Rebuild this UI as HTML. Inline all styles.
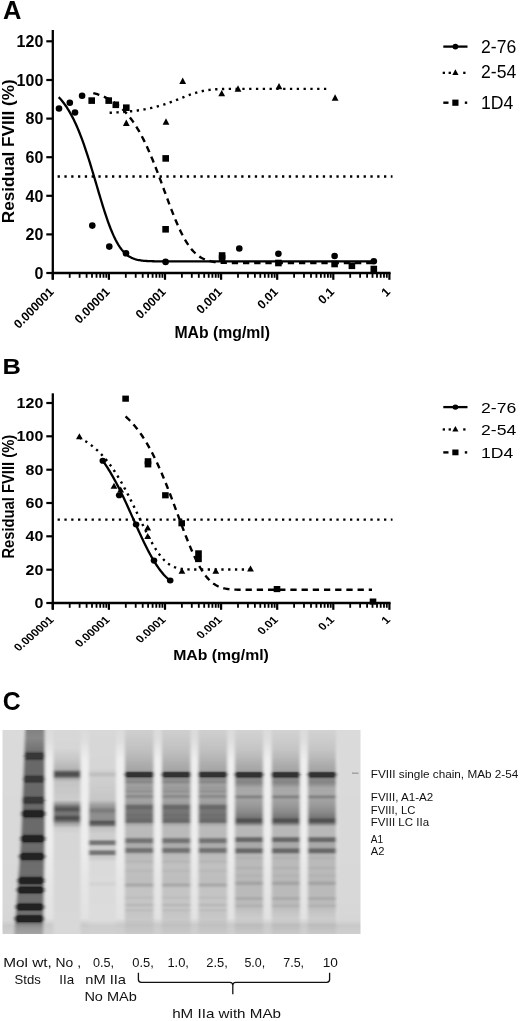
<!DOCTYPE html>
<html><head><meta charset="utf-8"><style>
html,body{margin:0;padding:0;background:#fff;}
body{width:520px;height:1021px;overflow:hidden;position:relative;font-family:"Liberation Sans",sans-serif;}
svg{position:absolute;left:0;top:0;will-change:transform;}
</style></head><body>
<svg width="520" height="1021" viewBox="0 0 520 1021">
<defs><linearGradient id="gbg" gradientUnits="userSpaceOnUse" x1="0" y1="726.0" x2="0" y2="938.0"><stop offset="0.0000" stop-color="#dadada"/><stop offset="0.0047" stop-color="#dadada"/><stop offset="0.0094" stop-color="#dadada"/><stop offset="0.0142" stop-color="#dadada"/><stop offset="0.0189" stop-color="#dadada"/><stop offset="0.0236" stop-color="#dadada"/><stop offset="0.0283" stop-color="#dadada"/><stop offset="0.0330" stop-color="#dadada"/><stop offset="0.0377" stop-color="#dadada"/><stop offset="0.0425" stop-color="#dadada"/><stop offset="0.0472" stop-color="#dadada"/><stop offset="0.0519" stop-color="#dadada"/><stop offset="0.0566" stop-color="#dadada"/><stop offset="0.0613" stop-color="#dadada"/><stop offset="0.0660" stop-color="#dadada"/><stop offset="0.0708" stop-color="#dadada"/><stop offset="0.0755" stop-color="#dadada"/><stop offset="0.0802" stop-color="#dadada"/><stop offset="0.0849" stop-color="#dadada"/><stop offset="0.0896" stop-color="#dadada"/><stop offset="0.0943" stop-color="#dadada"/><stop offset="0.0991" stop-color="#dadada"/><stop offset="0.1038" stop-color="#dadada"/><stop offset="0.1085" stop-color="#dadada"/><stop offset="0.1132" stop-color="#dadada"/><stop offset="0.1179" stop-color="#dadada"/><stop offset="0.1226" stop-color="#dadada"/><stop offset="0.1274" stop-color="#dadada"/><stop offset="0.1321" stop-color="#dadada"/><stop offset="0.1368" stop-color="#dadada"/><stop offset="0.1415" stop-color="#dadada"/><stop offset="0.1462" stop-color="#dadada"/><stop offset="0.1509" stop-color="#dadada"/><stop offset="0.1557" stop-color="#dadada"/><stop offset="0.1604" stop-color="#dadada"/><stop offset="0.1651" stop-color="#dadada"/><stop offset="0.1698" stop-color="#dadada"/><stop offset="0.1745" stop-color="#dadada"/><stop offset="0.1792" stop-color="#dadada"/><stop offset="0.1840" stop-color="#dadada"/><stop offset="0.1887" stop-color="#dadada"/><stop offset="0.1934" stop-color="#dadada"/><stop offset="0.1981" stop-color="#dadada"/><stop offset="0.2028" stop-color="#dadada"/><stop offset="0.2075" stop-color="#dadada"/><stop offset="0.2123" stop-color="#dadada"/><stop offset="0.2170" stop-color="#dadada"/><stop offset="0.2217" stop-color="#dadada"/><stop offset="0.2264" stop-color="#dadada"/><stop offset="0.2311" stop-color="#dadada"/><stop offset="0.2358" stop-color="#dadada"/><stop offset="0.2406" stop-color="#dadada"/><stop offset="0.2453" stop-color="#dadada"/><stop offset="0.2500" stop-color="#dadada"/><stop offset="0.2547" stop-color="#dadada"/><stop offset="0.2594" stop-color="#dadada"/><stop offset="0.2642" stop-color="#dadada"/><stop offset="0.2689" stop-color="#dadada"/><stop offset="0.2736" stop-color="#dadada"/><stop offset="0.2783" stop-color="#dadada"/><stop offset="0.2830" stop-color="#dadada"/><stop offset="0.2877" stop-color="#dadada"/><stop offset="0.2925" stop-color="#dadada"/><stop offset="0.2972" stop-color="#dadada"/><stop offset="0.3019" stop-color="#dadada"/><stop offset="0.3066" stop-color="#dadada"/><stop offset="0.3113" stop-color="#dadada"/><stop offset="0.3160" stop-color="#dadada"/><stop offset="0.3208" stop-color="#dadada"/><stop offset="0.3255" stop-color="#dadada"/><stop offset="0.3302" stop-color="#d9d9d9"/><stop offset="0.3349" stop-color="#d9d9d9"/><stop offset="0.3396" stop-color="#d9d9d9"/><stop offset="0.3443" stop-color="#d9d9d9"/><stop offset="0.3491" stop-color="#d9d9d9"/><stop offset="0.3538" stop-color="#d9d9d9"/><stop offset="0.3585" stop-color="#d9d9d9"/><stop offset="0.3632" stop-color="#d9d9d9"/><stop offset="0.3679" stop-color="#d9d9d9"/><stop offset="0.3726" stop-color="#d9d9d9"/><stop offset="0.3774" stop-color="#d9d9d9"/><stop offset="0.3821" stop-color="#d9d9d9"/><stop offset="0.3868" stop-color="#d9d9d9"/><stop offset="0.3915" stop-color="#d9d9d9"/><stop offset="0.3962" stop-color="#d9d9d9"/><stop offset="0.4009" stop-color="#d9d9d9"/><stop offset="0.4057" stop-color="#d9d9d9"/><stop offset="0.4104" stop-color="#d9d9d9"/><stop offset="0.4151" stop-color="#d9d9d9"/><stop offset="0.4198" stop-color="#d9d9d9"/><stop offset="0.4245" stop-color="#d9d9d9"/><stop offset="0.4292" stop-color="#d9d9d9"/><stop offset="0.4340" stop-color="#d9d9d9"/><stop offset="0.4387" stop-color="#d9d9d9"/><stop offset="0.4434" stop-color="#d9d9d9"/><stop offset="0.4481" stop-color="#d9d9d9"/><stop offset="0.4528" stop-color="#d9d9d9"/><stop offset="0.4575" stop-color="#d9d9d9"/><stop offset="0.4623" stop-color="#d9d9d9"/><stop offset="0.4670" stop-color="#d9d9d9"/><stop offset="0.4717" stop-color="#d9d9d9"/><stop offset="0.4764" stop-color="#d9d9d9"/><stop offset="0.4811" stop-color="#d9d9d9"/><stop offset="0.4858" stop-color="#d9d9d9"/><stop offset="0.4906" stop-color="#d9d9d9"/><stop offset="0.4953" stop-color="#d9d9d9"/><stop offset="0.5000" stop-color="#d9d9d9"/><stop offset="0.5047" stop-color="#d9d9d9"/><stop offset="0.5094" stop-color="#d9d9d9"/><stop offset="0.5142" stop-color="#d9d9d9"/><stop offset="0.5189" stop-color="#d9d9d9"/><stop offset="0.5236" stop-color="#d9d9d9"/><stop offset="0.5283" stop-color="#d9d9d9"/><stop offset="0.5330" stop-color="#d9d9d9"/><stop offset="0.5377" stop-color="#d9d9d9"/><stop offset="0.5425" stop-color="#d9d9d9"/><stop offset="0.5472" stop-color="#d9d9d9"/><stop offset="0.5519" stop-color="#d9d9d9"/><stop offset="0.5566" stop-color="#d9d9d9"/><stop offset="0.5613" stop-color="#d9d9d9"/><stop offset="0.5660" stop-color="#d9d9d9"/><stop offset="0.5708" stop-color="#d9d9d9"/><stop offset="0.5755" stop-color="#d9d9d9"/><stop offset="0.5802" stop-color="#d9d9d9"/><stop offset="0.5849" stop-color="#d9d9d9"/><stop offset="0.5896" stop-color="#d9d9d9"/><stop offset="0.5943" stop-color="#d9d9d9"/><stop offset="0.5991" stop-color="#d9d9d9"/><stop offset="0.6038" stop-color="#d9d9d9"/><stop offset="0.6085" stop-color="#d9d9d9"/><stop offset="0.6132" stop-color="#d9d9d9"/><stop offset="0.6179" stop-color="#d9d9d9"/><stop offset="0.6226" stop-color="#d9d9d9"/><stop offset="0.6274" stop-color="#d9d9d9"/><stop offset="0.6321" stop-color="#d9d9d9"/><stop offset="0.6368" stop-color="#d9d9d9"/><stop offset="0.6415" stop-color="#d9d9d9"/><stop offset="0.6462" stop-color="#d9d9d9"/><stop offset="0.6509" stop-color="#d9d9d9"/><stop offset="0.6557" stop-color="#d8d8d8"/><stop offset="0.6604" stop-color="#d8d8d8"/><stop offset="0.6651" stop-color="#d8d8d8"/><stop offset="0.6698" stop-color="#d8d8d8"/><stop offset="0.6745" stop-color="#d8d8d8"/><stop offset="0.6792" stop-color="#d8d8d8"/><stop offset="0.6840" stop-color="#d8d8d8"/><stop offset="0.6887" stop-color="#d8d8d8"/><stop offset="0.6934" stop-color="#d8d8d8"/><stop offset="0.6981" stop-color="#d8d8d8"/><stop offset="0.7028" stop-color="#d8d8d8"/><stop offset="0.7075" stop-color="#d8d8d8"/><stop offset="0.7123" stop-color="#d8d8d8"/><stop offset="0.7170" stop-color="#d8d8d8"/><stop offset="0.7217" stop-color="#d8d8d8"/><stop offset="0.7264" stop-color="#d8d8d8"/><stop offset="0.7311" stop-color="#d8d8d8"/><stop offset="0.7358" stop-color="#d8d8d8"/><stop offset="0.7406" stop-color="#d8d8d8"/><stop offset="0.7453" stop-color="#d8d8d8"/><stop offset="0.7500" stop-color="#d8d8d8"/><stop offset="0.7547" stop-color="#d8d8d8"/><stop offset="0.7594" stop-color="#d8d8d8"/><stop offset="0.7642" stop-color="#d8d8d8"/><stop offset="0.7689" stop-color="#d8d8d8"/><stop offset="0.7736" stop-color="#d8d8d8"/><stop offset="0.7783" stop-color="#d8d8d8"/><stop offset="0.7830" stop-color="#d8d8d8"/><stop offset="0.7877" stop-color="#d8d8d8"/><stop offset="0.7925" stop-color="#d8d8d8"/><stop offset="0.7972" stop-color="#d8d8d8"/><stop offset="0.8019" stop-color="#d8d8d8"/><stop offset="0.8066" stop-color="#d8d8d8"/><stop offset="0.8113" stop-color="#d8d8d8"/><stop offset="0.8160" stop-color="#d8d8d8"/><stop offset="0.8208" stop-color="#d8d8d8"/><stop offset="0.8255" stop-color="#d8d8d8"/><stop offset="0.8302" stop-color="#d8d8d8"/><stop offset="0.8349" stop-color="#d8d8d8"/><stop offset="0.8396" stop-color="#d8d8d8"/><stop offset="0.8443" stop-color="#d8d8d8"/><stop offset="0.8491" stop-color="#d7d7d7"/><stop offset="0.8538" stop-color="#d7d7d7"/><stop offset="0.8585" stop-color="#d7d7d7"/><stop offset="0.8632" stop-color="#d7d7d7"/><stop offset="0.8679" stop-color="#d7d7d7"/><stop offset="0.8726" stop-color="#d7d7d7"/><stop offset="0.8774" stop-color="#d7d7d7"/><stop offset="0.8821" stop-color="#d7d7d7"/><stop offset="0.8868" stop-color="#d7d7d7"/><stop offset="0.8915" stop-color="#d6d6d6"/><stop offset="0.8962" stop-color="#d6d6d6"/><stop offset="0.9009" stop-color="#d6d6d6"/><stop offset="0.9057" stop-color="#d6d6d6"/><stop offset="0.9104" stop-color="#d6d6d6"/><stop offset="0.9151" stop-color="#d6d6d6"/><stop offset="0.9198" stop-color="#d4d4d4"/><stop offset="0.9245" stop-color="#d1d1d1"/><stop offset="0.9292" stop-color="#cfcfcf"/><stop offset="0.9340" stop-color="#cdcdcd"/><stop offset="0.9387" stop-color="#cacaca"/><stop offset="0.9434" stop-color="#c8c8c8"/><stop offset="0.9481" stop-color="#c9c9c9"/><stop offset="0.9528" stop-color="#cacaca"/><stop offset="0.9575" stop-color="#cbcbcb"/><stop offset="0.9623" stop-color="#cccccc"/><stop offset="0.9670" stop-color="#cdcdcd"/><stop offset="0.9717" stop-color="#cdcdcd"/><stop offset="0.9764" stop-color="#cecece"/><stop offset="0.9811" stop-color="#cecece"/><stop offset="0.9858" stop-color="#cfcfcf"/><stop offset="0.9906" stop-color="#cfcfcf"/><stop offset="0.9953" stop-color="#d0d0d0"/><stop offset="1.0000" stop-color="#d0d0d0"/></linearGradient><linearGradient id="gsep" gradientUnits="userSpaceOnUse" x1="0" y1="726.0" x2="0" y2="938.0"><stop offset="0.0000" stop-color="#dadada"/><stop offset="0.0047" stop-color="#dadada"/><stop offset="0.0094" stop-color="#dbdbdb"/><stop offset="0.0142" stop-color="#dbdbdb"/><stop offset="0.0189" stop-color="#dbdbdb"/><stop offset="0.0236" stop-color="#dbdbdb"/><stop offset="0.0283" stop-color="#dcdcdc"/><stop offset="0.0330" stop-color="#dcdcdc"/><stop offset="0.0377" stop-color="#dcdcdc"/><stop offset="0.0425" stop-color="#dddddd"/><stop offset="0.0472" stop-color="#dddddd"/><stop offset="0.0519" stop-color="#dddddd"/><stop offset="0.0566" stop-color="#dddddd"/><stop offset="0.0613" stop-color="#dedede"/><stop offset="0.0660" stop-color="#dedede"/><stop offset="0.0708" stop-color="#dfdfdf"/><stop offset="0.0755" stop-color="#e0e0e0"/><stop offset="0.0802" stop-color="#e0e0e0"/><stop offset="0.0849" stop-color="#e1e1e1"/><stop offset="0.0896" stop-color="#e2e2e2"/><stop offset="0.0943" stop-color="#e3e3e3"/><stop offset="0.0991" stop-color="#e4e4e4"/><stop offset="0.1038" stop-color="#e4e4e4"/><stop offset="0.1085" stop-color="#e5e5e5"/><stop offset="0.1132" stop-color="#e6e6e6"/><stop offset="0.1179" stop-color="#e7e7e7"/><stop offset="0.1226" stop-color="#e8e8e8"/><stop offset="0.1274" stop-color="#e8e8e8"/><stop offset="0.1321" stop-color="#e9e9e9"/><stop offset="0.1368" stop-color="#eaeaea"/><stop offset="0.1415" stop-color="#ebebeb"/><stop offset="0.1462" stop-color="#ececec"/><stop offset="0.1509" stop-color="#ececec"/><stop offset="0.1557" stop-color="#ededed"/><stop offset="0.1604" stop-color="#eeeeee"/><stop offset="0.1651" stop-color="#eeeeee"/><stop offset="0.1698" stop-color="#eeeeee"/><stop offset="0.1745" stop-color="#eeeeee"/><stop offset="0.1792" stop-color="#eeeeee"/><stop offset="0.1840" stop-color="#eeeeee"/><stop offset="0.1887" stop-color="#eeeeee"/><stop offset="0.1934" stop-color="#eeeeee"/><stop offset="0.1981" stop-color="#eeeeee"/><stop offset="0.2028" stop-color="#eeeeee"/><stop offset="0.2075" stop-color="#eeeeee"/><stop offset="0.2123" stop-color="#eeeeee"/><stop offset="0.2170" stop-color="#eeeeee"/><stop offset="0.2217" stop-color="#eeeeee"/><stop offset="0.2264" stop-color="#eeeeee"/><stop offset="0.2311" stop-color="#eeeeee"/><stop offset="0.2358" stop-color="#eeeeee"/><stop offset="0.2406" stop-color="#eeeeee"/><stop offset="0.2453" stop-color="#eeeeee"/><stop offset="0.2500" stop-color="#eeeeee"/><stop offset="0.2547" stop-color="#eeeeee"/><stop offset="0.2594" stop-color="#eeeeee"/><stop offset="0.2642" stop-color="#eeeeee"/><stop offset="0.2689" stop-color="#eeeeee"/><stop offset="0.2736" stop-color="#eeeeee"/><stop offset="0.2783" stop-color="#eeeeee"/><stop offset="0.2830" stop-color="#eeeeee"/><stop offset="0.2877" stop-color="#eeeeee"/><stop offset="0.2925" stop-color="#eeeeee"/><stop offset="0.2972" stop-color="#eeeeee"/><stop offset="0.3019" stop-color="#eeeeee"/><stop offset="0.3066" stop-color="#eeeeee"/><stop offset="0.3113" stop-color="#eeeeee"/><stop offset="0.3160" stop-color="#eeeeee"/><stop offset="0.3208" stop-color="#eeeeee"/><stop offset="0.3255" stop-color="#eeeeee"/><stop offset="0.3302" stop-color="#eeeeee"/><stop offset="0.3349" stop-color="#eeeeee"/><stop offset="0.3396" stop-color="#eeeeee"/><stop offset="0.3443" stop-color="#eeeeee"/><stop offset="0.3491" stop-color="#eeeeee"/><stop offset="0.3538" stop-color="#eeeeee"/><stop offset="0.3585" stop-color="#eeeeee"/><stop offset="0.3632" stop-color="#ededed"/><stop offset="0.3679" stop-color="#ededed"/><stop offset="0.3726" stop-color="#ededed"/><stop offset="0.3774" stop-color="#ededed"/><stop offset="0.3821" stop-color="#ededed"/><stop offset="0.3868" stop-color="#ededed"/><stop offset="0.3915" stop-color="#ededed"/><stop offset="0.3962" stop-color="#ededed"/><stop offset="0.4009" stop-color="#ededed"/><stop offset="0.4057" stop-color="#ededed"/><stop offset="0.4104" stop-color="#ededed"/><stop offset="0.4151" stop-color="#ededed"/><stop offset="0.4198" stop-color="#ededed"/><stop offset="0.4245" stop-color="#ededed"/><stop offset="0.4292" stop-color="#ededed"/><stop offset="0.4340" stop-color="#ededed"/><stop offset="0.4387" stop-color="#ededed"/><stop offset="0.4434" stop-color="#ededed"/><stop offset="0.4481" stop-color="#ededed"/><stop offset="0.4528" stop-color="#ededed"/><stop offset="0.4575" stop-color="#ededed"/><stop offset="0.4623" stop-color="#ededed"/><stop offset="0.4670" stop-color="#ededed"/><stop offset="0.4717" stop-color="#ededed"/><stop offset="0.4764" stop-color="#ededed"/><stop offset="0.4811" stop-color="#ededed"/><stop offset="0.4858" stop-color="#ededed"/><stop offset="0.4906" stop-color="#ededed"/><stop offset="0.4953" stop-color="#ededed"/><stop offset="0.5000" stop-color="#ededed"/><stop offset="0.5047" stop-color="#ededed"/><stop offset="0.5094" stop-color="#ededed"/><stop offset="0.5142" stop-color="#ededed"/><stop offset="0.5189" stop-color="#ededed"/><stop offset="0.5236" stop-color="#ededed"/><stop offset="0.5283" stop-color="#ededed"/><stop offset="0.5330" stop-color="#ededed"/><stop offset="0.5377" stop-color="#ededed"/><stop offset="0.5425" stop-color="#ededed"/><stop offset="0.5472" stop-color="#ededed"/><stop offset="0.5519" stop-color="#ededed"/><stop offset="0.5566" stop-color="#ededed"/><stop offset="0.5613" stop-color="#ededed"/><stop offset="0.5660" stop-color="#ededed"/><stop offset="0.5708" stop-color="#ededed"/><stop offset="0.5755" stop-color="#ececec"/><stop offset="0.5802" stop-color="#ececec"/><stop offset="0.5849" stop-color="#ececec"/><stop offset="0.5896" stop-color="#ececec"/><stop offset="0.5943" stop-color="#ececec"/><stop offset="0.5991" stop-color="#ebebeb"/><stop offset="0.6038" stop-color="#ebebeb"/><stop offset="0.6085" stop-color="#ebebeb"/><stop offset="0.6132" stop-color="#ebebeb"/><stop offset="0.6179" stop-color="#ebebeb"/><stop offset="0.6226" stop-color="#eaeaea"/><stop offset="0.6274" stop-color="#eaeaea"/><stop offset="0.6321" stop-color="#eaeaea"/><stop offset="0.6368" stop-color="#eaeaea"/><stop offset="0.6415" stop-color="#eaeaea"/><stop offset="0.6462" stop-color="#e9e9e9"/><stop offset="0.6509" stop-color="#e9e9e9"/><stop offset="0.6557" stop-color="#e9e9e9"/><stop offset="0.6604" stop-color="#e9e9e9"/><stop offset="0.6651" stop-color="#e9e9e9"/><stop offset="0.6698" stop-color="#e8e8e8"/><stop offset="0.6745" stop-color="#e8e8e8"/><stop offset="0.6792" stop-color="#e8e8e8"/><stop offset="0.6840" stop-color="#e8e8e8"/><stop offset="0.6887" stop-color="#e8e8e8"/><stop offset="0.6934" stop-color="#e7e7e7"/><stop offset="0.6981" stop-color="#e7e7e7"/><stop offset="0.7028" stop-color="#e7e7e7"/><stop offset="0.7075" stop-color="#e7e7e7"/><stop offset="0.7123" stop-color="#e7e7e7"/><stop offset="0.7170" stop-color="#e6e6e6"/><stop offset="0.7217" stop-color="#e6e6e6"/><stop offset="0.7264" stop-color="#e6e6e6"/><stop offset="0.7311" stop-color="#e6e6e6"/><stop offset="0.7358" stop-color="#e6e6e6"/><stop offset="0.7406" stop-color="#e6e6e6"/><stop offset="0.7453" stop-color="#e6e6e6"/><stop offset="0.7500" stop-color="#e5e5e5"/><stop offset="0.7547" stop-color="#e5e5e5"/><stop offset="0.7594" stop-color="#e5e5e5"/><stop offset="0.7642" stop-color="#e5e5e5"/><stop offset="0.7689" stop-color="#e5e5e5"/><stop offset="0.7736" stop-color="#e5e5e5"/><stop offset="0.7783" stop-color="#e5e5e5"/><stop offset="0.7830" stop-color="#e5e5e5"/><stop offset="0.7877" stop-color="#e5e5e5"/><stop offset="0.7925" stop-color="#e5e5e5"/><stop offset="0.7972" stop-color="#e4e4e4"/><stop offset="0.8019" stop-color="#e4e4e4"/><stop offset="0.8066" stop-color="#e4e4e4"/><stop offset="0.8113" stop-color="#e4e4e4"/><stop offset="0.8160" stop-color="#e4e4e4"/><stop offset="0.8208" stop-color="#e4e4e4"/><stop offset="0.8255" stop-color="#e4e4e4"/><stop offset="0.8302" stop-color="#e4e4e4"/><stop offset="0.8349" stop-color="#e4e4e4"/><stop offset="0.8396" stop-color="#e3e3e3"/><stop offset="0.8443" stop-color="#e3e3e3"/><stop offset="0.8491" stop-color="#e3e3e3"/><stop offset="0.8538" stop-color="#e3e3e3"/><stop offset="0.8585" stop-color="#e3e3e3"/><stop offset="0.8632" stop-color="#e3e3e3"/><stop offset="0.8679" stop-color="#e3e3e3"/><stop offset="0.8726" stop-color="#e3e3e3"/><stop offset="0.8774" stop-color="#e3e3e3"/><stop offset="0.8821" stop-color="#e3e3e3"/><stop offset="0.8868" stop-color="#e2e2e2"/><stop offset="0.8915" stop-color="#e2e2e2"/><stop offset="0.8962" stop-color="#e2e2e2"/><stop offset="0.9009" stop-color="#e2e2e2"/><stop offset="0.9057" stop-color="#e2e2e2"/><stop offset="0.9104" stop-color="#dfdfdf"/><stop offset="0.9151" stop-color="#dbdbdb"/><stop offset="0.9198" stop-color="#d8d8d8"/><stop offset="0.9245" stop-color="#d4d4d4"/><stop offset="0.9292" stop-color="#d1d1d1"/><stop offset="0.9340" stop-color="#cdcdcd"/><stop offset="0.9387" stop-color="#cacaca"/><stop offset="0.9434" stop-color="#cbcbcb"/><stop offset="0.9481" stop-color="#cbcbcb"/><stop offset="0.9528" stop-color="#cccccc"/><stop offset="0.9575" stop-color="#cdcdcd"/><stop offset="0.9623" stop-color="#cdcdcd"/><stop offset="0.9670" stop-color="#cecece"/><stop offset="0.9717" stop-color="#cecece"/><stop offset="0.9764" stop-color="#cfcfcf"/><stop offset="0.9811" stop-color="#cfcfcf"/><stop offset="0.9858" stop-color="#cfcfcf"/><stop offset="0.9906" stop-color="#cfcfcf"/><stop offset="0.9953" stop-color="#d0d0d0"/><stop offset="1.0000" stop-color="#d0d0d0"/></linearGradient><linearGradient id="gmk" gradientUnits="userSpaceOnUse" x1="0" y1="726.0" x2="0" y2="938.0"><stop offset="0.0000" stop-color="#7e7e7e"/><stop offset="0.0047" stop-color="#7f7f7f"/><stop offset="0.0094" stop-color="#808080"/><stop offset="0.0142" stop-color="#808080"/><stop offset="0.0189" stop-color="#818181"/><stop offset="0.0236" stop-color="#828282"/><stop offset="0.0283" stop-color="#838383"/><stop offset="0.0330" stop-color="#848484"/><stop offset="0.0377" stop-color="#858585"/><stop offset="0.0425" stop-color="#868686"/><stop offset="0.0472" stop-color="#868686"/><stop offset="0.0519" stop-color="#878787"/><stop offset="0.0566" stop-color="#888888"/><stop offset="0.0613" stop-color="#868686"/><stop offset="0.0660" stop-color="#848484"/><stop offset="0.0708" stop-color="#838383"/><stop offset="0.0755" stop-color="#818181"/><stop offset="0.0802" stop-color="#7f7f7f"/><stop offset="0.0849" stop-color="#7d7d7d"/><stop offset="0.0896" stop-color="#7b7b7b"/><stop offset="0.0943" stop-color="#7a7a7a"/><stop offset="0.0991" stop-color="#787878"/><stop offset="0.1038" stop-color="#767676"/><stop offset="0.1085" stop-color="#757575"/><stop offset="0.1132" stop-color="#737373"/><stop offset="0.1179" stop-color="#6d6d6d"/><stop offset="0.1226" stop-color="#5e5e5e"/><stop offset="0.1274" stop-color="#464646"/><stop offset="0.1321" stop-color="#303030"/><stop offset="0.1368" stop-color="#242424"/><stop offset="0.1415" stop-color="#222222"/><stop offset="0.1462" stop-color="#222222"/><stop offset="0.1509" stop-color="#2b2b2b"/><stop offset="0.1557" stop-color="#3f3f3f"/><stop offset="0.1604" stop-color="#555555"/><stop offset="0.1651" stop-color="#636363"/><stop offset="0.1698" stop-color="#676767"/><stop offset="0.1745" stop-color="#686868"/><stop offset="0.1792" stop-color="#686868"/><stop offset="0.1840" stop-color="#686868"/><stop offset="0.1887" stop-color="#686868"/><stop offset="0.1934" stop-color="#686868"/><stop offset="0.1981" stop-color="#686868"/><stop offset="0.2028" stop-color="#686868"/><stop offset="0.2075" stop-color="#686868"/><stop offset="0.2123" stop-color="#686868"/><stop offset="0.2170" stop-color="#686868"/><stop offset="0.2217" stop-color="#686868"/><stop offset="0.2264" stop-color="#666666"/><stop offset="0.2311" stop-color="#5c5c5c"/><stop offset="0.2358" stop-color="#484848"/><stop offset="0.2406" stop-color="#323232"/><stop offset="0.2453" stop-color="#262626"/><stop offset="0.2500" stop-color="#242424"/><stop offset="0.2547" stop-color="#252525"/><stop offset="0.2594" stop-color="#2f2f2f"/><stop offset="0.2642" stop-color="#434343"/><stop offset="0.2689" stop-color="#595959"/><stop offset="0.2736" stop-color="#656565"/><stop offset="0.2783" stop-color="#686868"/><stop offset="0.2830" stop-color="#686868"/><stop offset="0.2877" stop-color="#686868"/><stop offset="0.2925" stop-color="#686868"/><stop offset="0.2972" stop-color="#686868"/><stop offset="0.3019" stop-color="#686868"/><stop offset="0.3066" stop-color="#686868"/><stop offset="0.3113" stop-color="#686868"/><stop offset="0.3160" stop-color="#686868"/><stop offset="0.3208" stop-color="#686868"/><stop offset="0.3255" stop-color="#666666"/><stop offset="0.3302" stop-color="#5e5e5e"/><stop offset="0.3349" stop-color="#4b4b4b"/><stop offset="0.3396" stop-color="#333333"/><stop offset="0.3443" stop-color="#242424"/><stop offset="0.3491" stop-color="#202020"/><stop offset="0.3538" stop-color="#212121"/><stop offset="0.3585" stop-color="#292929"/><stop offset="0.3632" stop-color="#3d3d3d"/><stop offset="0.3679" stop-color="#545454"/><stop offset="0.3726" stop-color="#636363"/><stop offset="0.3774" stop-color="#686868"/><stop offset="0.3821" stop-color="#686868"/><stop offset="0.3868" stop-color="#666666"/><stop offset="0.3915" stop-color="#5e5e5e"/><stop offset="0.3962" stop-color="#4c4c4c"/><stop offset="0.4009" stop-color="#353535"/><stop offset="0.4057" stop-color="#232323"/><stop offset="0.4104" stop-color="#1c1c1c"/><stop offset="0.4151" stop-color="#1b1b1b"/><stop offset="0.4198" stop-color="#1e1e1e"/><stop offset="0.4245" stop-color="#292929"/><stop offset="0.4292" stop-color="#3e3e3e"/><stop offset="0.4340" stop-color="#555555"/><stop offset="0.4387" stop-color="#646464"/><stop offset="0.4434" stop-color="#696969"/><stop offset="0.4481" stop-color="#6a6a6a"/><stop offset="0.4528" stop-color="#6a6a6a"/><stop offset="0.4575" stop-color="#6a6a6a"/><stop offset="0.4623" stop-color="#6a6a6a"/><stop offset="0.4670" stop-color="#6a6a6a"/><stop offset="0.4717" stop-color="#6a6a6a"/><stop offset="0.4764" stop-color="#6a6a6a"/><stop offset="0.4811" stop-color="#6a6a6a"/><stop offset="0.4858" stop-color="#6a6a6a"/><stop offset="0.4906" stop-color="#6a6a6a"/><stop offset="0.4953" stop-color="#6a6a6a"/><stop offset="0.5000" stop-color="#6a6a6a"/><stop offset="0.5047" stop-color="#686868"/><stop offset="0.5094" stop-color="#606060"/><stop offset="0.5142" stop-color="#4e4e4e"/><stop offset="0.5189" stop-color="#373737"/><stop offset="0.5236" stop-color="#252525"/><stop offset="0.5283" stop-color="#1e1e1e"/><stop offset="0.5330" stop-color="#1d1d1d"/><stop offset="0.5377" stop-color="#202020"/><stop offset="0.5425" stop-color="#2b2b2b"/><stop offset="0.5472" stop-color="#404040"/><stop offset="0.5519" stop-color="#575757"/><stop offset="0.5566" stop-color="#666666"/><stop offset="0.5613" stop-color="#6b6b6b"/><stop offset="0.5660" stop-color="#6c6c6c"/><stop offset="0.5708" stop-color="#6c6c6c"/><stop offset="0.5755" stop-color="#6c6c6c"/><stop offset="0.5802" stop-color="#6c6c6c"/><stop offset="0.5849" stop-color="#6b6b6b"/><stop offset="0.5896" stop-color="#686868"/><stop offset="0.5943" stop-color="#5d5d5d"/><stop offset="0.5991" stop-color="#494949"/><stop offset="0.6038" stop-color="#323232"/><stop offset="0.6085" stop-color="#232323"/><stop offset="0.6132" stop-color="#1f1f1f"/><stop offset="0.6179" stop-color="#1f1f1f"/><stop offset="0.6226" stop-color="#232323"/><stop offset="0.6274" stop-color="#323232"/><stop offset="0.6321" stop-color="#494949"/><stop offset="0.6368" stop-color="#5e5e5e"/><stop offset="0.6415" stop-color="#696969"/><stop offset="0.6462" stop-color="#6d6d6d"/><stop offset="0.6509" stop-color="#6d6d6d"/><stop offset="0.6557" stop-color="#6d6d6d"/><stop offset="0.6604" stop-color="#6d6d6d"/><stop offset="0.6651" stop-color="#6d6d6d"/><stop offset="0.6698" stop-color="#6d6d6d"/><stop offset="0.6745" stop-color="#6e6e6e"/><stop offset="0.6792" stop-color="#6e6e6e"/><stop offset="0.6840" stop-color="#6e6e6e"/><stop offset="0.6887" stop-color="#6e6e6e"/><stop offset="0.6934" stop-color="#6e6e6e"/><stop offset="0.6981" stop-color="#6d6d6d"/><stop offset="0.7028" stop-color="#6b6b6b"/><stop offset="0.7075" stop-color="#606060"/><stop offset="0.7123" stop-color="#4b4b4b"/><stop offset="0.7170" stop-color="#333333"/><stop offset="0.7217" stop-color="#222222"/><stop offset="0.7264" stop-color="#1d1d1d"/><stop offset="0.7311" stop-color="#1d1d1d"/><stop offset="0.7358" stop-color="#212121"/><stop offset="0.7406" stop-color="#2f2f2f"/><stop offset="0.7453" stop-color="#464646"/><stop offset="0.7500" stop-color="#5a5a5a"/><stop offset="0.7547" stop-color="#5b5b5b"/><stop offset="0.7594" stop-color="#464646"/><stop offset="0.7642" stop-color="#2e2e2e"/><stop offset="0.7689" stop-color="#212121"/><stop offset="0.7736" stop-color="#1f1f1f"/><stop offset="0.7783" stop-color="#212121"/><stop offset="0.7830" stop-color="#2e2e2e"/><stop offset="0.7877" stop-color="#474747"/><stop offset="0.7925" stop-color="#606060"/><stop offset="0.7972" stop-color="#6c6c6c"/><stop offset="0.8019" stop-color="#6f6f6f"/><stop offset="0.8066" stop-color="#707070"/><stop offset="0.8113" stop-color="#707070"/><stop offset="0.8160" stop-color="#707070"/><stop offset="0.8208" stop-color="#707070"/><stop offset="0.8255" stop-color="#707070"/><stop offset="0.8302" stop-color="#6b6b6b"/><stop offset="0.8349" stop-color="#5c5c5c"/><stop offset="0.8396" stop-color="#434343"/><stop offset="0.8443" stop-color="#2d2d2d"/><stop offset="0.8491" stop-color="#222222"/><stop offset="0.8538" stop-color="#212121"/><stop offset="0.8585" stop-color="#232323"/><stop offset="0.8632" stop-color="#2e2e2e"/><stop offset="0.8679" stop-color="#464646"/><stop offset="0.8726" stop-color="#5f5f5f"/><stop offset="0.8774" stop-color="#6e6e6e"/><stop offset="0.8821" stop-color="#717171"/><stop offset="0.8868" stop-color="#696969"/><stop offset="0.8915" stop-color="#555555"/><stop offset="0.8962" stop-color="#3b3b3b"/><stop offset="0.9009" stop-color="#272727"/><stop offset="0.9057" stop-color="#1f1f1f"/><stop offset="0.9104" stop-color="#1f1f1f"/><stop offset="0.9151" stop-color="#222222"/><stop offset="0.9198" stop-color="#2f2f2f"/><stop offset="0.9245" stop-color="#484848"/><stop offset="0.9292" stop-color="#666666"/><stop offset="0.9340" stop-color="#7b7b7b"/><stop offset="0.9387" stop-color="#868686"/><stop offset="0.9434" stop-color="#8c8c8c"/><stop offset="0.9481" stop-color="#919191"/><stop offset="0.9528" stop-color="#969696"/><stop offset="0.9575" stop-color="#989898"/><stop offset="0.9623" stop-color="#9a9a9a"/><stop offset="0.9670" stop-color="#9d9d9d"/><stop offset="0.9717" stop-color="#9f9f9f"/><stop offset="0.9764" stop-color="#a1a1a1"/><stop offset="0.9811" stop-color="#a3a3a3"/><stop offset="0.9858" stop-color="#a5a5a5"/><stop offset="0.9906" stop-color="#a8a8a8"/><stop offset="0.9953" stop-color="#aaaaaa"/><stop offset="1.0000" stop-color="#acacac"/></linearGradient><linearGradient id="gl2" gradientUnits="userSpaceOnUse" x1="0" y1="726.0" x2="0" y2="938.0"><stop offset="0.0000" stop-color="#d8d8d8"/><stop offset="0.0047" stop-color="#d8d8d8"/><stop offset="0.0094" stop-color="#d8d8d8"/><stop offset="0.0142" stop-color="#d8d8d8"/><stop offset="0.0189" stop-color="#d8d8d8"/><stop offset="0.0236" stop-color="#d8d8d8"/><stop offset="0.0283" stop-color="#d7d7d7"/><stop offset="0.0330" stop-color="#d7d7d7"/><stop offset="0.0377" stop-color="#d7d7d7"/><stop offset="0.0425" stop-color="#d7d7d7"/><stop offset="0.0472" stop-color="#d7d7d7"/><stop offset="0.0519" stop-color="#d7d7d7"/><stop offset="0.0566" stop-color="#d7d7d7"/><stop offset="0.0613" stop-color="#d7d7d7"/><stop offset="0.0660" stop-color="#d7d7d7"/><stop offset="0.0708" stop-color="#d7d7d7"/><stop offset="0.0755" stop-color="#d7d7d7"/><stop offset="0.0802" stop-color="#d6d6d6"/><stop offset="0.0849" stop-color="#d6d6d6"/><stop offset="0.0896" stop-color="#d6d6d6"/><stop offset="0.0943" stop-color="#d6d6d6"/><stop offset="0.0991" stop-color="#d6d6d6"/><stop offset="0.1038" stop-color="#d6d6d6"/><stop offset="0.1085" stop-color="#d5d5d5"/><stop offset="0.1132" stop-color="#d3d3d3"/><stop offset="0.1179" stop-color="#d2d2d2"/><stop offset="0.1226" stop-color="#d1d1d1"/><stop offset="0.1274" stop-color="#cfcfcf"/><stop offset="0.1321" stop-color="#cecece"/><stop offset="0.1368" stop-color="#cdcdcd"/><stop offset="0.1415" stop-color="#cbcbcb"/><stop offset="0.1462" stop-color="#cacaca"/><stop offset="0.1509" stop-color="#c9c9c9"/><stop offset="0.1557" stop-color="#c7c7c7"/><stop offset="0.1604" stop-color="#c6c6c6"/><stop offset="0.1651" stop-color="#c4c4c4"/><stop offset="0.1698" stop-color="#c2c2c2"/><stop offset="0.1745" stop-color="#c0c0c0"/><stop offset="0.1792" stop-color="#bebebe"/><stop offset="0.1840" stop-color="#bcbcbc"/><stop offset="0.1887" stop-color="#bababa"/><stop offset="0.1934" stop-color="#b8b8b8"/><stop offset="0.1981" stop-color="#b6b6b6"/><stop offset="0.2028" stop-color="#afafaf"/><stop offset="0.2075" stop-color="#a0a0a0"/><stop offset="0.2123" stop-color="#838383"/><stop offset="0.2170" stop-color="#656565"/><stop offset="0.2217" stop-color="#535353"/><stop offset="0.2264" stop-color="#4f4f4f"/><stop offset="0.2311" stop-color="#505050"/><stop offset="0.2358" stop-color="#5b5b5b"/><stop offset="0.2406" stop-color="#757575"/><stop offset="0.2453" stop-color="#929292"/><stop offset="0.2500" stop-color="#aaaaaa"/><stop offset="0.2547" stop-color="#b5b5b5"/><stop offset="0.2594" stop-color="#bdbdbd"/><stop offset="0.2642" stop-color="#c4c4c4"/><stop offset="0.2689" stop-color="#c4c4c4"/><stop offset="0.2736" stop-color="#c5c5c5"/><stop offset="0.2783" stop-color="#c5c5c5"/><stop offset="0.2830" stop-color="#c6c6c6"/><stop offset="0.2877" stop-color="#c6c6c6"/><stop offset="0.2925" stop-color="#c7c7c7"/><stop offset="0.2972" stop-color="#c7c7c7"/><stop offset="0.3019" stop-color="#c8c8c8"/><stop offset="0.3066" stop-color="#c8c8c8"/><stop offset="0.3113" stop-color="#c8c8c8"/><stop offset="0.3160" stop-color="#c9c9c9"/><stop offset="0.3208" stop-color="#c9c9c9"/><stop offset="0.3255" stop-color="#cacaca"/><stop offset="0.3302" stop-color="#cacaca"/><stop offset="0.3349" stop-color="#cbcbcb"/><stop offset="0.3396" stop-color="#cbcbcb"/><stop offset="0.3443" stop-color="#cccccc"/><stop offset="0.3491" stop-color="#cccccc"/><stop offset="0.3538" stop-color="#bfbfbf"/><stop offset="0.3585" stop-color="#b2b2b2"/><stop offset="0.3632" stop-color="#a5a5a5"/><stop offset="0.3679" stop-color="#979797"/><stop offset="0.3726" stop-color="#888888"/><stop offset="0.3774" stop-color="#757575"/><stop offset="0.3821" stop-color="#6a6a6a"/><stop offset="0.3868" stop-color="#5d5d5d"/><stop offset="0.3915" stop-color="#555555"/><stop offset="0.3962" stop-color="#565656"/><stop offset="0.4009" stop-color="#616161"/><stop offset="0.4057" stop-color="#6d6d6d"/><stop offset="0.4104" stop-color="#747474"/><stop offset="0.4151" stop-color="#757575"/><stop offset="0.4198" stop-color="#6e6e6e"/><stop offset="0.4245" stop-color="#616161"/><stop offset="0.4292" stop-color="#535353"/><stop offset="0.4340" stop-color="#4c4c4c"/><stop offset="0.4387" stop-color="#525252"/><stop offset="0.4434" stop-color="#5f5f5f"/><stop offset="0.4481" stop-color="#6c6c6c"/><stop offset="0.4528" stop-color="#838383"/><stop offset="0.4575" stop-color="#959595"/><stop offset="0.4623" stop-color="#a5a5a5"/><stop offset="0.4670" stop-color="#afafaf"/><stop offset="0.4717" stop-color="#b9b9b9"/><stop offset="0.4764" stop-color="#c4c4c4"/><stop offset="0.4811" stop-color="#cecece"/><stop offset="0.4858" stop-color="#cfcfcf"/><stop offset="0.4906" stop-color="#d1d1d1"/><stop offset="0.4953" stop-color="#d2d2d2"/><stop offset="0.5000" stop-color="#d3d3d3"/><stop offset="0.5047" stop-color="#d5d5d5"/><stop offset="0.5094" stop-color="#d6d6d6"/><stop offset="0.5142" stop-color="#d6d6d6"/><stop offset="0.5189" stop-color="#d6d6d6"/><stop offset="0.5236" stop-color="#d6d6d6"/><stop offset="0.5283" stop-color="#d6d6d6"/><stop offset="0.5330" stop-color="#d6d6d6"/><stop offset="0.5377" stop-color="#d6d6d6"/><stop offset="0.5425" stop-color="#d6d6d6"/><stop offset="0.5472" stop-color="#d6d6d6"/><stop offset="0.5519" stop-color="#d6d6d6"/><stop offset="0.5566" stop-color="#d6d6d6"/><stop offset="0.5613" stop-color="#d6d6d6"/><stop offset="0.5660" stop-color="#d6d6d6"/><stop offset="0.5708" stop-color="#d6d6d6"/><stop offset="0.5755" stop-color="#d6d6d6"/><stop offset="0.5802" stop-color="#d6d6d6"/><stop offset="0.5849" stop-color="#d6d6d6"/><stop offset="0.5896" stop-color="#d6d6d6"/><stop offset="0.5943" stop-color="#d6d6d6"/><stop offset="0.5991" stop-color="#d6d6d6"/><stop offset="0.6038" stop-color="#d6d6d6"/><stop offset="0.6085" stop-color="#d6d6d6"/><stop offset="0.6132" stop-color="#d6d6d6"/><stop offset="0.6179" stop-color="#d6d6d6"/><stop offset="0.6226" stop-color="#d6d6d6"/><stop offset="0.6274" stop-color="#d6d6d6"/><stop offset="0.6321" stop-color="#d6d6d6"/><stop offset="0.6368" stop-color="#d7d7d7"/><stop offset="0.6415" stop-color="#d7d7d7"/><stop offset="0.6462" stop-color="#d7d7d7"/><stop offset="0.6509" stop-color="#d7d7d7"/><stop offset="0.6557" stop-color="#d7d7d7"/><stop offset="0.6604" stop-color="#d7d7d7"/><stop offset="0.6651" stop-color="#d7d7d7"/><stop offset="0.6698" stop-color="#d7d7d7"/><stop offset="0.6745" stop-color="#d7d7d7"/><stop offset="0.6792" stop-color="#d7d7d7"/><stop offset="0.6840" stop-color="#d7d7d7"/><stop offset="0.6887" stop-color="#d7d7d7"/><stop offset="0.6934" stop-color="#d7d7d7"/><stop offset="0.6981" stop-color="#d7d7d7"/><stop offset="0.7028" stop-color="#d7d7d7"/><stop offset="0.7075" stop-color="#d7d7d7"/><stop offset="0.7123" stop-color="#d7d7d7"/><stop offset="0.7170" stop-color="#d7d7d7"/><stop offset="0.7217" stop-color="#d7d7d7"/><stop offset="0.7264" stop-color="#d7d7d7"/><stop offset="0.7311" stop-color="#d7d7d7"/><stop offset="0.7358" stop-color="#d7d7d7"/><stop offset="0.7406" stop-color="#d7d7d7"/><stop offset="0.7453" stop-color="#d7d7d7"/><stop offset="0.7500" stop-color="#d7d7d7"/><stop offset="0.7547" stop-color="#d7d7d7"/><stop offset="0.7594" stop-color="#d7d7d7"/><stop offset="0.7642" stop-color="#d7d7d7"/><stop offset="0.7689" stop-color="#d7d7d7"/><stop offset="0.7736" stop-color="#d7d7d7"/><stop offset="0.7783" stop-color="#d7d7d7"/><stop offset="0.7830" stop-color="#d7d7d7"/><stop offset="0.7877" stop-color="#d7d7d7"/><stop offset="0.7925" stop-color="#d7d7d7"/><stop offset="0.7972" stop-color="#d7d7d7"/><stop offset="0.8019" stop-color="#d7d7d7"/><stop offset="0.8066" stop-color="#d7d7d7"/><stop offset="0.8113" stop-color="#d7d7d7"/><stop offset="0.8160" stop-color="#d7d7d7"/><stop offset="0.8208" stop-color="#d7d7d7"/><stop offset="0.8255" stop-color="#d7d7d7"/><stop offset="0.8302" stop-color="#d7d7d7"/><stop offset="0.8349" stop-color="#d7d7d7"/><stop offset="0.8396" stop-color="#d7d7d7"/><stop offset="0.8443" stop-color="#d7d7d7"/><stop offset="0.8491" stop-color="#d7d7d7"/><stop offset="0.8538" stop-color="#d7d7d7"/><stop offset="0.8585" stop-color="#d7d7d7"/><stop offset="0.8632" stop-color="#d7d7d7"/><stop offset="0.8679" stop-color="#d7d7d7"/><stop offset="0.8726" stop-color="#d7d7d7"/><stop offset="0.8774" stop-color="#d8d8d8"/><stop offset="0.8821" stop-color="#d8d8d8"/><stop offset="0.8868" stop-color="#d8d8d8"/><stop offset="0.8915" stop-color="#d8d8d8"/><stop offset="0.8962" stop-color="#d8d8d8"/><stop offset="0.9009" stop-color="#d8d8d8"/><stop offset="0.9057" stop-color="#d8d8d8"/><stop offset="0.9104" stop-color="#d8d8d8"/><stop offset="0.9151" stop-color="#d8d8d8"/><stop offset="0.9198" stop-color="#d8d8d8"/><stop offset="0.9245" stop-color="#d8d8d8"/><stop offset="0.9292" stop-color="#d8d8d8"/><stop offset="0.9340" stop-color="#d8d8d8"/><stop offset="0.9387" stop-color="#d8d8d8"/><stop offset="0.9434" stop-color="#d8d8d8"/><stop offset="0.9481" stop-color="#d8d8d8"/><stop offset="0.9528" stop-color="#d8d8d8"/><stop offset="0.9575" stop-color="#d8d8d8"/><stop offset="0.9623" stop-color="#d8d8d8"/><stop offset="0.9670" stop-color="#d8d8d8"/><stop offset="0.9717" stop-color="#d8d8d8"/><stop offset="0.9764" stop-color="#d8d8d8"/><stop offset="0.9811" stop-color="#d8d8d8"/><stop offset="0.9858" stop-color="#d8d8d8"/><stop offset="0.9906" stop-color="#d8d8d8"/><stop offset="0.9953" stop-color="#d8d8d8"/><stop offset="1.0000" stop-color="#d8d8d8"/></linearGradient><linearGradient id="gl3" gradientUnits="userSpaceOnUse" x1="0" y1="726.0" x2="0" y2="938.0"><stop offset="0.0000" stop-color="#d8d8d8"/><stop offset="0.0047" stop-color="#d8d8d8"/><stop offset="0.0094" stop-color="#d8d8d8"/><stop offset="0.0142" stop-color="#d8d8d8"/><stop offset="0.0189" stop-color="#d8d8d8"/><stop offset="0.0236" stop-color="#d8d8d8"/><stop offset="0.0283" stop-color="#d8d8d8"/><stop offset="0.0330" stop-color="#d8d8d8"/><stop offset="0.0377" stop-color="#d8d8d8"/><stop offset="0.0425" stop-color="#d8d8d8"/><stop offset="0.0472" stop-color="#d8d8d8"/><stop offset="0.0519" stop-color="#d7d7d7"/><stop offset="0.0566" stop-color="#d7d7d7"/><stop offset="0.0613" stop-color="#d7d7d7"/><stop offset="0.0660" stop-color="#d7d7d7"/><stop offset="0.0708" stop-color="#d7d7d7"/><stop offset="0.0755" stop-color="#d7d7d7"/><stop offset="0.0802" stop-color="#d7d7d7"/><stop offset="0.0849" stop-color="#d7d7d7"/><stop offset="0.0896" stop-color="#d7d7d7"/><stop offset="0.0943" stop-color="#d7d7d7"/><stop offset="0.0991" stop-color="#d7d7d7"/><stop offset="0.1038" stop-color="#d7d7d7"/><stop offset="0.1085" stop-color="#d7d7d7"/><stop offset="0.1132" stop-color="#d7d7d7"/><stop offset="0.1179" stop-color="#d7d7d7"/><stop offset="0.1226" stop-color="#d7d7d7"/><stop offset="0.1274" stop-color="#d7d7d7"/><stop offset="0.1321" stop-color="#d7d7d7"/><stop offset="0.1368" stop-color="#d7d7d7"/><stop offset="0.1415" stop-color="#d7d7d7"/><stop offset="0.1462" stop-color="#d7d7d7"/><stop offset="0.1509" stop-color="#d6d6d6"/><stop offset="0.1557" stop-color="#d6d6d6"/><stop offset="0.1604" stop-color="#d6d6d6"/><stop offset="0.1651" stop-color="#d6d6d6"/><stop offset="0.1698" stop-color="#d6d6d6"/><stop offset="0.1745" stop-color="#d6d6d6"/><stop offset="0.1792" stop-color="#d6d6d6"/><stop offset="0.1840" stop-color="#d6d6d6"/><stop offset="0.1887" stop-color="#d6d6d6"/><stop offset="0.1934" stop-color="#d6d6d6"/><stop offset="0.1981" stop-color="#d6d6d6"/><stop offset="0.2028" stop-color="#d4d4d4"/><stop offset="0.2075" stop-color="#d2d2d2"/><stop offset="0.2123" stop-color="#cfcfcf"/><stop offset="0.2170" stop-color="#cacaca"/><stop offset="0.2217" stop-color="#c4c4c4"/><stop offset="0.2264" stop-color="#bfbfbf"/><stop offset="0.2311" stop-color="#bfbfbf"/><stop offset="0.2358" stop-color="#c4c4c4"/><stop offset="0.2406" stop-color="#cacaca"/><stop offset="0.2453" stop-color="#cecece"/><stop offset="0.2500" stop-color="#cfcfcf"/><stop offset="0.2547" stop-color="#cfcfcf"/><stop offset="0.2594" stop-color="#cfcfcf"/><stop offset="0.2642" stop-color="#cecece"/><stop offset="0.2689" stop-color="#cecece"/><stop offset="0.2736" stop-color="#cdcdcd"/><stop offset="0.2783" stop-color="#cdcdcd"/><stop offset="0.2830" stop-color="#cccccc"/><stop offset="0.2877" stop-color="#cccccc"/><stop offset="0.2925" stop-color="#cbcbcb"/><stop offset="0.2972" stop-color="#cbcbcb"/><stop offset="0.3019" stop-color="#cbcbcb"/><stop offset="0.3066" stop-color="#cacaca"/><stop offset="0.3113" stop-color="#cacaca"/><stop offset="0.3160" stop-color="#c9c9c9"/><stop offset="0.3208" stop-color="#c9c9c9"/><stop offset="0.3255" stop-color="#c8c8c8"/><stop offset="0.3302" stop-color="#c8c8c8"/><stop offset="0.3349" stop-color="#c7c7c7"/><stop offset="0.3396" stop-color="#c7c7c7"/><stop offset="0.3443" stop-color="#c6c6c6"/><stop offset="0.3491" stop-color="#c6c6c6"/><stop offset="0.3538" stop-color="#bebebe"/><stop offset="0.3585" stop-color="#b7b7b7"/><stop offset="0.3632" stop-color="#afafaf"/><stop offset="0.3679" stop-color="#a7a7a7"/><stop offset="0.3726" stop-color="#9f9f9f"/><stop offset="0.3774" stop-color="#9b9b9b"/><stop offset="0.3821" stop-color="#959595"/><stop offset="0.3868" stop-color="#8d8d8d"/><stop offset="0.3915" stop-color="#838383"/><stop offset="0.3962" stop-color="#7d7d7d"/><stop offset="0.4009" stop-color="#7c7c7c"/><stop offset="0.4057" stop-color="#808080"/><stop offset="0.4104" stop-color="#878787"/><stop offset="0.4151" stop-color="#8c8c8c"/><stop offset="0.4198" stop-color="#8e8e8e"/><stop offset="0.4245" stop-color="#8f8f8f"/><stop offset="0.4292" stop-color="#8f8f8f"/><stop offset="0.4340" stop-color="#8f8f8f"/><stop offset="0.4387" stop-color="#8c8c8c"/><stop offset="0.4434" stop-color="#818181"/><stop offset="0.4481" stop-color="#6a6a6a"/><stop offset="0.4528" stop-color="#555555"/><stop offset="0.4575" stop-color="#585858"/><stop offset="0.4623" stop-color="#626262"/><stop offset="0.4670" stop-color="#737373"/><stop offset="0.4717" stop-color="#919191"/><stop offset="0.4764" stop-color="#b1b1b1"/><stop offset="0.4811" stop-color="#bebebe"/><stop offset="0.4858" stop-color="#c2c2c2"/><stop offset="0.4906" stop-color="#c5c5c5"/><stop offset="0.4953" stop-color="#c7c7c7"/><stop offset="0.5000" stop-color="#c9c9c9"/><stop offset="0.5047" stop-color="#cccccc"/><stop offset="0.5094" stop-color="#cecece"/><stop offset="0.5142" stop-color="#cecece"/><stop offset="0.5189" stop-color="#cecece"/><stop offset="0.5236" stop-color="#cecece"/><stop offset="0.5283" stop-color="#cdcdcd"/><stop offset="0.5330" stop-color="#c9c9c9"/><stop offset="0.5377" stop-color="#b0b0b0"/><stop offset="0.5425" stop-color="#898989"/><stop offset="0.5472" stop-color="#757575"/><stop offset="0.5519" stop-color="#737373"/><stop offset="0.5566" stop-color="#7e7e7e"/><stop offset="0.5613" stop-color="#a0a0a0"/><stop offset="0.5660" stop-color="#c1c1c1"/><stop offset="0.5708" stop-color="#cccccc"/><stop offset="0.5755" stop-color="#cdcdcd"/><stop offset="0.5802" stop-color="#c8c8c8"/><stop offset="0.5849" stop-color="#afafaf"/><stop offset="0.5896" stop-color="#898989"/><stop offset="0.5943" stop-color="#747474"/><stop offset="0.5991" stop-color="#737373"/><stop offset="0.6038" stop-color="#7d7d7d"/><stop offset="0.6085" stop-color="#9f9f9f"/><stop offset="0.6132" stop-color="#c1c1c1"/><stop offset="0.6179" stop-color="#cbcbcb"/><stop offset="0.6226" stop-color="#cccccc"/><stop offset="0.6274" stop-color="#cfcfcf"/><stop offset="0.6321" stop-color="#d3d3d3"/><stop offset="0.6368" stop-color="#d6d6d6"/><stop offset="0.6415" stop-color="#dadada"/><stop offset="0.6462" stop-color="#dadada"/><stop offset="0.6509" stop-color="#dadada"/><stop offset="0.6557" stop-color="#dadada"/><stop offset="0.6604" stop-color="#dadada"/><stop offset="0.6651" stop-color="#dadada"/><stop offset="0.6698" stop-color="#dadada"/><stop offset="0.6745" stop-color="#dadada"/><stop offset="0.6792" stop-color="#dadada"/><stop offset="0.6840" stop-color="#dadada"/><stop offset="0.6887" stop-color="#dadada"/><stop offset="0.6934" stop-color="#dadada"/><stop offset="0.6981" stop-color="#dadada"/><stop offset="0.7028" stop-color="#dadada"/><stop offset="0.7075" stop-color="#dadada"/><stop offset="0.7123" stop-color="#dbdbdb"/><stop offset="0.7170" stop-color="#dbdbdb"/><stop offset="0.7217" stop-color="#dbdbdb"/><stop offset="0.7264" stop-color="#dadada"/><stop offset="0.7311" stop-color="#dadada"/><stop offset="0.7358" stop-color="#d8d8d8"/><stop offset="0.7406" stop-color="#d4d4d4"/><stop offset="0.7453" stop-color="#d3d3d3"/><stop offset="0.7500" stop-color="#d5d5d5"/><stop offset="0.7547" stop-color="#d8d8d8"/><stop offset="0.7594" stop-color="#dadada"/><stop offset="0.7642" stop-color="#dbdbdb"/><stop offset="0.7689" stop-color="#dbdbdb"/><stop offset="0.7736" stop-color="#dbdbdb"/><stop offset="0.7783" stop-color="#dbdbdb"/><stop offset="0.7830" stop-color="#dbdbdb"/><stop offset="0.7877" stop-color="#dbdbdb"/><stop offset="0.7925" stop-color="#dbdbdb"/><stop offset="0.7972" stop-color="#dbdbdb"/><stop offset="0.8019" stop-color="#dbdbdb"/><stop offset="0.8066" stop-color="#dbdbdb"/><stop offset="0.8113" stop-color="#dbdbdb"/><stop offset="0.8160" stop-color="#dbdbdb"/><stop offset="0.8208" stop-color="#dbdbdb"/><stop offset="0.8255" stop-color="#dbdbdb"/><stop offset="0.8302" stop-color="#dbdbdb"/><stop offset="0.8349" stop-color="#dbdbdb"/><stop offset="0.8396" stop-color="#dbdbdb"/><stop offset="0.8443" stop-color="#dbdbdb"/><stop offset="0.8491" stop-color="#dcdcdc"/><stop offset="0.8538" stop-color="#dcdcdc"/><stop offset="0.8585" stop-color="#dcdcdc"/><stop offset="0.8632" stop-color="#dcdcdc"/><stop offset="0.8679" stop-color="#dcdcdc"/><stop offset="0.8726" stop-color="#dcdcdc"/><stop offset="0.8774" stop-color="#dcdcdc"/><stop offset="0.8821" stop-color="#dcdcdc"/><stop offset="0.8868" stop-color="#dcdcdc"/><stop offset="0.8915" stop-color="#dcdcdc"/><stop offset="0.8962" stop-color="#dcdcdc"/><stop offset="0.9009" stop-color="#dcdcdc"/><stop offset="0.9057" stop-color="#dcdcdc"/><stop offset="0.9104" stop-color="#dcdcdc"/><stop offset="0.9151" stop-color="#dcdcdc"/><stop offset="0.9198" stop-color="#dadada"/><stop offset="0.9245" stop-color="#d7d7d7"/><stop offset="0.9292" stop-color="#d4d4d4"/><stop offset="0.9340" stop-color="#d2d2d2"/><stop offset="0.9387" stop-color="#d0d0d0"/><stop offset="0.9434" stop-color="#cdcdcd"/><stop offset="0.9481" stop-color="#cdcdcd"/><stop offset="0.9528" stop-color="#cecece"/><stop offset="0.9575" stop-color="#cecece"/><stop offset="0.9623" stop-color="#cfcfcf"/><stop offset="0.9670" stop-color="#cfcfcf"/><stop offset="0.9717" stop-color="#d0d0d0"/><stop offset="0.9764" stop-color="#d0d0d0"/><stop offset="0.9811" stop-color="#d0d0d0"/><stop offset="0.9858" stop-color="#d1d1d1"/><stop offset="0.9906" stop-color="#d1d1d1"/><stop offset="0.9953" stop-color="#d2d2d2"/><stop offset="1.0000" stop-color="#d2d2d2"/></linearGradient><linearGradient id="gla" gradientUnits="userSpaceOnUse" x1="0" y1="726.0" x2="0" y2="938.0"><stop offset="0.0000" stop-color="#d2d2d2"/><stop offset="0.0047" stop-color="#d1d1d1"/><stop offset="0.0094" stop-color="#d1d1d1"/><stop offset="0.0142" stop-color="#d0d0d0"/><stop offset="0.0189" stop-color="#cfcfcf"/><stop offset="0.0236" stop-color="#cecece"/><stop offset="0.0283" stop-color="#cecece"/><stop offset="0.0330" stop-color="#cdcdcd"/><stop offset="0.0377" stop-color="#cccccc"/><stop offset="0.0425" stop-color="#cccccc"/><stop offset="0.0472" stop-color="#cbcbcb"/><stop offset="0.0519" stop-color="#cacaca"/><stop offset="0.0566" stop-color="#c9c9c9"/><stop offset="0.0613" stop-color="#c9c9c9"/><stop offset="0.0660" stop-color="#c8c8c8"/><stop offset="0.0708" stop-color="#c7c7c7"/><stop offset="0.0755" stop-color="#c6c6c6"/><stop offset="0.0802" stop-color="#c6c6c6"/><stop offset="0.0849" stop-color="#c5c5c5"/><stop offset="0.0896" stop-color="#c4c4c4"/><stop offset="0.0943" stop-color="#c3c3c3"/><stop offset="0.0991" stop-color="#c2c2c2"/><stop offset="0.1038" stop-color="#c2c2c2"/><stop offset="0.1085" stop-color="#c1c1c1"/><stop offset="0.1132" stop-color="#c0c0c0"/><stop offset="0.1179" stop-color="#bfbfbf"/><stop offset="0.1226" stop-color="#bebebe"/><stop offset="0.1274" stop-color="#bcbcbc"/><stop offset="0.1321" stop-color="#bbbbbb"/><stop offset="0.1368" stop-color="#bababa"/><stop offset="0.1415" stop-color="#b8b8b8"/><stop offset="0.1462" stop-color="#b7b7b7"/><stop offset="0.1509" stop-color="#b6b6b6"/><stop offset="0.1557" stop-color="#b4b4b4"/><stop offset="0.1604" stop-color="#b3b3b3"/><stop offset="0.1651" stop-color="#b2b2b2"/><stop offset="0.1698" stop-color="#b0b0b0"/><stop offset="0.1745" stop-color="#aeaeae"/><stop offset="0.1792" stop-color="#adadad"/><stop offset="0.1840" stop-color="#acacac"/><stop offset="0.1887" stop-color="#aaaaaa"/><stop offset="0.1934" stop-color="#a9a9a9"/><stop offset="0.1981" stop-color="#a8a8a8"/><stop offset="0.2028" stop-color="#a7a7a7"/><stop offset="0.2075" stop-color="#a5a5a5"/><stop offset="0.2123" stop-color="#979797"/><stop offset="0.2170" stop-color="#6c6c6c"/><stop offset="0.2217" stop-color="#3b3b3b"/><stop offset="0.2264" stop-color="#252525"/><stop offset="0.2311" stop-color="#212121"/><stop offset="0.2358" stop-color="#2b2b2b"/><stop offset="0.2406" stop-color="#525252"/><stop offset="0.2453" stop-color="#7b7b7b"/><stop offset="0.2500" stop-color="#898989"/><stop offset="0.2547" stop-color="#8d8d8d"/><stop offset="0.2594" stop-color="#8a8a8a"/><stop offset="0.2642" stop-color="#888888"/><stop offset="0.2689" stop-color="#909090"/><stop offset="0.2736" stop-color="#999999"/><stop offset="0.2783" stop-color="#9e9e9e"/><stop offset="0.2830" stop-color="#9e9e9e"/><stop offset="0.2877" stop-color="#9c9c9c"/><stop offset="0.2925" stop-color="#9a9a9a"/><stop offset="0.2972" stop-color="#9a9a9a"/><stop offset="0.3019" stop-color="#999999"/><stop offset="0.3066" stop-color="#939393"/><stop offset="0.3113" stop-color="#959595"/><stop offset="0.3160" stop-color="#9b9b9b"/><stop offset="0.3208" stop-color="#9e9e9e"/><stop offset="0.3255" stop-color="#949494"/><stop offset="0.3302" stop-color="#8c8c8c"/><stop offset="0.3349" stop-color="#8c8c8c"/><stop offset="0.3396" stop-color="#979797"/><stop offset="0.3443" stop-color="#9e9e9e"/><stop offset="0.3491" stop-color="#a4a4a4"/><stop offset="0.3538" stop-color="#a2a2a2"/><stop offset="0.3585" stop-color="#a0a0a0"/><stop offset="0.3632" stop-color="#9e9e9e"/><stop offset="0.3679" stop-color="#8f8f8f"/><stop offset="0.3726" stop-color="#7f7f7f"/><stop offset="0.3774" stop-color="#6d6d6d"/><stop offset="0.3821" stop-color="#696969"/><stop offset="0.3868" stop-color="#686868"/><stop offset="0.3915" stop-color="#6e6e6e"/><stop offset="0.3962" stop-color="#737373"/><stop offset="0.4009" stop-color="#757575"/><stop offset="0.4057" stop-color="#767676"/><stop offset="0.4104" stop-color="#747474"/><stop offset="0.4151" stop-color="#707070"/><stop offset="0.4198" stop-color="#6d6d6d"/><stop offset="0.4245" stop-color="#6e6e6e"/><stop offset="0.4292" stop-color="#707070"/><stop offset="0.4340" stop-color="#6f6f6f"/><stop offset="0.4387" stop-color="#6c6c6c"/><stop offset="0.4434" stop-color="#686868"/><stop offset="0.4481" stop-color="#6a6a6a"/><stop offset="0.4528" stop-color="#6f6f6f"/><stop offset="0.4575" stop-color="#8b8b8b"/><stop offset="0.4623" stop-color="#a5a5a5"/><stop offset="0.4670" stop-color="#acacac"/><stop offset="0.4717" stop-color="#b3b3b3"/><stop offset="0.4764" stop-color="#bababa"/><stop offset="0.4811" stop-color="#bababa"/><stop offset="0.4858" stop-color="#bababa"/><stop offset="0.4906" stop-color="#bababa"/><stop offset="0.4953" stop-color="#bababa"/><stop offset="0.5000" stop-color="#bababa"/><stop offset="0.5047" stop-color="#bababa"/><stop offset="0.5094" stop-color="#bababa"/><stop offset="0.5142" stop-color="#bababa"/><stop offset="0.5189" stop-color="#bababa"/><stop offset="0.5236" stop-color="#b2b2b2"/><stop offset="0.5283" stop-color="#9d9d9d"/><stop offset="0.5330" stop-color="#818181"/><stop offset="0.5377" stop-color="#747474"/><stop offset="0.5425" stop-color="#727272"/><stop offset="0.5472" stop-color="#797979"/><stop offset="0.5519" stop-color="#8f8f8f"/><stop offset="0.5566" stop-color="#a5a5a5"/><stop offset="0.5613" stop-color="#ababab"/><stop offset="0.5660" stop-color="#adadad"/><stop offset="0.5708" stop-color="#a7a7a7"/><stop offset="0.5755" stop-color="#929292"/><stop offset="0.5802" stop-color="#797979"/><stop offset="0.5849" stop-color="#717171"/><stop offset="0.5896" stop-color="#727272"/><stop offset="0.5943" stop-color="#7d7d7d"/><stop offset="0.5991" stop-color="#989898"/><stop offset="0.6038" stop-color="#b0b0b0"/><stop offset="0.6085" stop-color="#b8b8b8"/><stop offset="0.6132" stop-color="#bababa"/><stop offset="0.6179" stop-color="#bbbbbb"/><stop offset="0.6226" stop-color="#bbbbbb"/><stop offset="0.6274" stop-color="#bcbcbc"/><stop offset="0.6321" stop-color="#bababa"/><stop offset="0.6368" stop-color="#b7b7b7"/><stop offset="0.6415" stop-color="#b6b6b6"/><stop offset="0.6462" stop-color="#bbbbbb"/><stop offset="0.6509" stop-color="#bebebe"/><stop offset="0.6557" stop-color="#c0c0c0"/><stop offset="0.6604" stop-color="#c0c0c0"/><stop offset="0.6651" stop-color="#c0c0c0"/><stop offset="0.6698" stop-color="#bfbfbf"/><stop offset="0.6745" stop-color="#bebebe"/><stop offset="0.6792" stop-color="#bbbbbb"/><stop offset="0.6840" stop-color="#b9b9b9"/><stop offset="0.6887" stop-color="#bbbbbb"/><stop offset="0.6934" stop-color="#bebebe"/><stop offset="0.6981" stop-color="#bfbfbf"/><stop offset="0.7028" stop-color="#bfbfbf"/><stop offset="0.7075" stop-color="#bfbfbf"/><stop offset="0.7123" stop-color="#bebebe"/><stop offset="0.7170" stop-color="#bebebe"/><stop offset="0.7217" stop-color="#bebebe"/><stop offset="0.7264" stop-color="#bebebe"/><stop offset="0.7311" stop-color="#bebebe"/><stop offset="0.7358" stop-color="#bdbdbd"/><stop offset="0.7406" stop-color="#b7b7b7"/><stop offset="0.7453" stop-color="#adadad"/><stop offset="0.7500" stop-color="#a8a8a8"/><stop offset="0.7547" stop-color="#aeaeae"/><stop offset="0.7594" stop-color="#b9b9b9"/><stop offset="0.7642" stop-color="#c0c0c0"/><stop offset="0.7689" stop-color="#c3c3c3"/><stop offset="0.7736" stop-color="#c4c4c4"/><stop offset="0.7783" stop-color="#c4c4c4"/><stop offset="0.7830" stop-color="#c4c4c4"/><stop offset="0.7877" stop-color="#c4c4c4"/><stop offset="0.7925" stop-color="#c4c4c4"/><stop offset="0.7972" stop-color="#c4c4c4"/><stop offset="0.8019" stop-color="#c2c2c2"/><stop offset="0.8066" stop-color="#bebebe"/><stop offset="0.8113" stop-color="#bdbdbd"/><stop offset="0.8160" stop-color="#c1c1c1"/><stop offset="0.8208" stop-color="#c4c4c4"/><stop offset="0.8255" stop-color="#c5c5c5"/><stop offset="0.8302" stop-color="#c5c5c5"/><stop offset="0.8349" stop-color="#c3c3c3"/><stop offset="0.8396" stop-color="#bdbdbd"/><stop offset="0.8443" stop-color="#b9b9b9"/><stop offset="0.8491" stop-color="#bdbdbd"/><stop offset="0.8538" stop-color="#c3c3c3"/><stop offset="0.8585" stop-color="#c4c4c4"/><stop offset="0.8632" stop-color="#c2c2c2"/><stop offset="0.8679" stop-color="#bebebe"/><stop offset="0.8726" stop-color="#bfbfbf"/><stop offset="0.8774" stop-color="#c3c3c3"/><stop offset="0.8821" stop-color="#c5c5c5"/><stop offset="0.8868" stop-color="#c6c6c6"/><stop offset="0.8915" stop-color="#c6c6c6"/><stop offset="0.8962" stop-color="#c6c6c6"/><stop offset="0.9009" stop-color="#c7c7c7"/><stop offset="0.9057" stop-color="#c7c7c7"/><stop offset="0.9104" stop-color="#c8c8c8"/><stop offset="0.9151" stop-color="#c8c8c8"/><stop offset="0.9198" stop-color="#c6c6c6"/><stop offset="0.9245" stop-color="#c5c5c5"/><stop offset="0.9292" stop-color="#c3c3c3"/><stop offset="0.9340" stop-color="#c2c2c2"/><stop offset="0.9387" stop-color="#c0c0c0"/><stop offset="0.9434" stop-color="#c1c1c1"/><stop offset="0.9481" stop-color="#c2c2c2"/><stop offset="0.9528" stop-color="#c3c3c3"/><stop offset="0.9575" stop-color="#c4c4c4"/><stop offset="0.9623" stop-color="#c5c5c5"/><stop offset="0.9670" stop-color="#c6c6c6"/><stop offset="0.9717" stop-color="#c7c7c7"/><stop offset="0.9764" stop-color="#c8c8c8"/><stop offset="0.9811" stop-color="#c9c9c9"/><stop offset="0.9858" stop-color="#cacaca"/><stop offset="0.9906" stop-color="#cbcbcb"/><stop offset="0.9953" stop-color="#cccccc"/><stop offset="1.0000" stop-color="#cdcdcd"/></linearGradient><linearGradient id="glb" gradientUnits="userSpaceOnUse" x1="0" y1="726.0" x2="0" y2="938.0"><stop offset="0.0000" stop-color="#d4d4d4"/><stop offset="0.0047" stop-color="#d3d3d3"/><stop offset="0.0094" stop-color="#d3d3d3"/><stop offset="0.0142" stop-color="#d2d2d2"/><stop offset="0.0189" stop-color="#d2d2d2"/><stop offset="0.0236" stop-color="#d1d1d1"/><stop offset="0.0283" stop-color="#d1d1d1"/><stop offset="0.0330" stop-color="#d0d0d0"/><stop offset="0.0377" stop-color="#cfcfcf"/><stop offset="0.0425" stop-color="#cfcfcf"/><stop offset="0.0472" stop-color="#cecece"/><stop offset="0.0519" stop-color="#cecece"/><stop offset="0.0566" stop-color="#cdcdcd"/><stop offset="0.0613" stop-color="#cdcdcd"/><stop offset="0.0660" stop-color="#cccccc"/><stop offset="0.0708" stop-color="#cbcbcb"/><stop offset="0.0755" stop-color="#cacaca"/><stop offset="0.0802" stop-color="#cacaca"/><stop offset="0.0849" stop-color="#c9c9c9"/><stop offset="0.0896" stop-color="#c8c8c8"/><stop offset="0.0943" stop-color="#c7c7c7"/><stop offset="0.0991" stop-color="#c6c6c6"/><stop offset="0.1038" stop-color="#c6c6c6"/><stop offset="0.1085" stop-color="#c5c5c5"/><stop offset="0.1132" stop-color="#c4c4c4"/><stop offset="0.1179" stop-color="#c2c2c2"/><stop offset="0.1226" stop-color="#c1c1c1"/><stop offset="0.1274" stop-color="#c0c0c0"/><stop offset="0.1321" stop-color="#bebebe"/><stop offset="0.1368" stop-color="#bcbcbc"/><stop offset="0.1415" stop-color="#bbbbbb"/><stop offset="0.1462" stop-color="#bababa"/><stop offset="0.1509" stop-color="#b8b8b8"/><stop offset="0.1557" stop-color="#b6b6b6"/><stop offset="0.1604" stop-color="#b4b4b4"/><stop offset="0.1651" stop-color="#b3b3b3"/><stop offset="0.1698" stop-color="#b1b1b1"/><stop offset="0.1745" stop-color="#afafaf"/><stop offset="0.1792" stop-color="#aeaeae"/><stop offset="0.1840" stop-color="#acacac"/><stop offset="0.1887" stop-color="#aaaaaa"/><stop offset="0.1934" stop-color="#a9a9a9"/><stop offset="0.1981" stop-color="#a8a8a8"/><stop offset="0.2028" stop-color="#a7a7a7"/><stop offset="0.2075" stop-color="#a5a5a5"/><stop offset="0.2123" stop-color="#9d9d9d"/><stop offset="0.2170" stop-color="#7a7a7a"/><stop offset="0.2217" stop-color="#464646"/><stop offset="0.2264" stop-color="#262626"/><stop offset="0.2311" stop-color="#1f1f1f"/><stop offset="0.2358" stop-color="#232323"/><stop offset="0.2406" stop-color="#414141"/><stop offset="0.2453" stop-color="#6e6e6e"/><stop offset="0.2500" stop-color="#848484"/><stop offset="0.2547" stop-color="#888888"/><stop offset="0.2594" stop-color="#868686"/><stop offset="0.2642" stop-color="#858585"/><stop offset="0.2689" stop-color="#888888"/><stop offset="0.2736" stop-color="#8d8d8d"/><stop offset="0.2783" stop-color="#959595"/><stop offset="0.2830" stop-color="#9b9b9b"/><stop offset="0.2877" stop-color="#a1a1a1"/><stop offset="0.2925" stop-color="#a7a7a7"/><stop offset="0.2972" stop-color="#a7a7a7"/><stop offset="0.3019" stop-color="#a8a8a8"/><stop offset="0.3066" stop-color="#a8a8a8"/><stop offset="0.3113" stop-color="#a9a9a9"/><stop offset="0.3160" stop-color="#a9a9a9"/><stop offset="0.3208" stop-color="#a6a6a6"/><stop offset="0.3255" stop-color="#9c9c9c"/><stop offset="0.3302" stop-color="#8b8b8b"/><stop offset="0.3349" stop-color="#838383"/><stop offset="0.3396" stop-color="#8d8d8d"/><stop offset="0.3443" stop-color="#9b9b9b"/><stop offset="0.3491" stop-color="#a1a1a1"/><stop offset="0.3538" stop-color="#a1a1a1"/><stop offset="0.3585" stop-color="#9f9f9f"/><stop offset="0.3632" stop-color="#9d9d9d"/><stop offset="0.3679" stop-color="#9c9c9c"/><stop offset="0.3726" stop-color="#9a9a9a"/><stop offset="0.3774" stop-color="#989898"/><stop offset="0.3821" stop-color="#969696"/><stop offset="0.3868" stop-color="#939393"/><stop offset="0.3915" stop-color="#919191"/><stop offset="0.3962" stop-color="#8f8f8f"/><stop offset="0.4009" stop-color="#8c8c8c"/><stop offset="0.4057" stop-color="#8a8a8a"/><stop offset="0.4104" stop-color="#868686"/><stop offset="0.4151" stop-color="#838383"/><stop offset="0.4198" stop-color="#7f7f7f"/><stop offset="0.4245" stop-color="#7c7c7c"/><stop offset="0.4292" stop-color="#767676"/><stop offset="0.4340" stop-color="#6d6d6d"/><stop offset="0.4387" stop-color="#5a5a5a"/><stop offset="0.4434" stop-color="#505050"/><stop offset="0.4481" stop-color="#515151"/><stop offset="0.4528" stop-color="#595959"/><stop offset="0.4575" stop-color="#6e6e6e"/><stop offset="0.4623" stop-color="#848484"/><stop offset="0.4670" stop-color="#9a9a9a"/><stop offset="0.4717" stop-color="#a9a9a9"/><stop offset="0.4764" stop-color="#b8b8b8"/><stop offset="0.4811" stop-color="#b8b8b8"/><stop offset="0.4858" stop-color="#b8b8b8"/><stop offset="0.4906" stop-color="#b8b8b8"/><stop offset="0.4953" stop-color="#b8b8b8"/><stop offset="0.5000" stop-color="#b8b8b8"/><stop offset="0.5047" stop-color="#b8b8b8"/><stop offset="0.5094" stop-color="#b8b8b8"/><stop offset="0.5142" stop-color="#b7b7b7"/><stop offset="0.5189" stop-color="#b1b1b1"/><stop offset="0.5236" stop-color="#989898"/><stop offset="0.5283" stop-color="#787878"/><stop offset="0.5330" stop-color="#696969"/><stop offset="0.5377" stop-color="#676767"/><stop offset="0.5425" stop-color="#6f6f6f"/><stop offset="0.5472" stop-color="#898989"/><stop offset="0.5519" stop-color="#a2a2a2"/><stop offset="0.5566" stop-color="#a9a9a9"/><stop offset="0.5613" stop-color="#a8a8a8"/><stop offset="0.5660" stop-color="#a9a9a9"/><stop offset="0.5708" stop-color="#a6a6a6"/><stop offset="0.5755" stop-color="#949494"/><stop offset="0.5802" stop-color="#777777"/><stop offset="0.5849" stop-color="#676767"/><stop offset="0.5896" stop-color="#676767"/><stop offset="0.5943" stop-color="#6e6e6e"/><stop offset="0.5991" stop-color="#898989"/><stop offset="0.6038" stop-color="#a7a7a7"/><stop offset="0.6085" stop-color="#b5b5b5"/><stop offset="0.6132" stop-color="#b7b7b7"/><stop offset="0.6179" stop-color="#b5b5b5"/><stop offset="0.6226" stop-color="#b3b3b3"/><stop offset="0.6274" stop-color="#b5b5b5"/><stop offset="0.6321" stop-color="#b8b8b8"/><stop offset="0.6368" stop-color="#b9b9b9"/><stop offset="0.6415" stop-color="#b9b9b9"/><stop offset="0.6462" stop-color="#bababa"/><stop offset="0.6509" stop-color="#bababa"/><stop offset="0.6557" stop-color="#bababa"/><stop offset="0.6604" stop-color="#b8b8b8"/><stop offset="0.6651" stop-color="#b4b4b4"/><stop offset="0.6698" stop-color="#b2b2b2"/><stop offset="0.6745" stop-color="#b4b4b4"/><stop offset="0.6792" stop-color="#b8b8b8"/><stop offset="0.6840" stop-color="#b9b9b9"/><stop offset="0.6887" stop-color="#b9b9b9"/><stop offset="0.6934" stop-color="#b9b9b9"/><stop offset="0.6981" stop-color="#b7b7b7"/><stop offset="0.7028" stop-color="#b4b4b4"/><stop offset="0.7075" stop-color="#b3b3b3"/><stop offset="0.7123" stop-color="#b6b6b6"/><stop offset="0.7170" stop-color="#b8b8b8"/><stop offset="0.7217" stop-color="#b8b8b8"/><stop offset="0.7264" stop-color="#b7b7b7"/><stop offset="0.7311" stop-color="#b2b2b2"/><stop offset="0.7358" stop-color="#aaaaaa"/><stop offset="0.7406" stop-color="#a3a3a3"/><stop offset="0.7453" stop-color="#a5a5a5"/><stop offset="0.7500" stop-color="#aeaeae"/><stop offset="0.7547" stop-color="#b6b6b6"/><stop offset="0.7594" stop-color="#b9b9b9"/><stop offset="0.7642" stop-color="#bababa"/><stop offset="0.7689" stop-color="#bababa"/><stop offset="0.7736" stop-color="#bababa"/><stop offset="0.7783" stop-color="#bababa"/><stop offset="0.7830" stop-color="#bababa"/><stop offset="0.7877" stop-color="#bababa"/><stop offset="0.7925" stop-color="#bababa"/><stop offset="0.7972" stop-color="#bababa"/><stop offset="0.8019" stop-color="#b8b8b8"/><stop offset="0.8066" stop-color="#b2b2b2"/><stop offset="0.8113" stop-color="#ababab"/><stop offset="0.8160" stop-color="#ababab"/><stop offset="0.8208" stop-color="#b2b2b2"/><stop offset="0.8255" stop-color="#b8b8b8"/><stop offset="0.8302" stop-color="#bababa"/><stop offset="0.8349" stop-color="#bababa"/><stop offset="0.8396" stop-color="#b8b8b8"/><stop offset="0.8443" stop-color="#b3b3b3"/><stop offset="0.8491" stop-color="#b1b1b1"/><stop offset="0.8538" stop-color="#b6b6b6"/><stop offset="0.8585" stop-color="#bcbcbc"/><stop offset="0.8632" stop-color="#bfbfbf"/><stop offset="0.8679" stop-color="#c1c1c1"/><stop offset="0.8726" stop-color="#c3c3c3"/><stop offset="0.8774" stop-color="#c4c4c4"/><stop offset="0.8821" stop-color="#c5c5c5"/><stop offset="0.8868" stop-color="#c7c7c7"/><stop offset="0.8915" stop-color="#c8c8c8"/><stop offset="0.8962" stop-color="#c9c9c9"/><stop offset="0.9009" stop-color="#cbcbcb"/><stop offset="0.9057" stop-color="#cccccc"/><stop offset="0.9104" stop-color="#cbcbcb"/><stop offset="0.9151" stop-color="#cacaca"/><stop offset="0.9198" stop-color="#c9c9c9"/><stop offset="0.9245" stop-color="#c8c8c8"/><stop offset="0.9292" stop-color="#c4c4c4"/><stop offset="0.9340" stop-color="#c0c0c0"/><stop offset="0.9387" stop-color="#bcbcbc"/><stop offset="0.9434" stop-color="#bdbdbd"/><stop offset="0.9481" stop-color="#bfbfbf"/><stop offset="0.9528" stop-color="#c0c0c0"/><stop offset="0.9575" stop-color="#c1c1c1"/><stop offset="0.9623" stop-color="#c3c3c3"/><stop offset="0.9670" stop-color="#c4c4c4"/><stop offset="0.9717" stop-color="#c5c5c5"/><stop offset="0.9764" stop-color="#c7c7c7"/><stop offset="0.9811" stop-color="#c8c8c8"/><stop offset="0.9858" stop-color="#c9c9c9"/><stop offset="0.9906" stop-color="#cacaca"/><stop offset="0.9953" stop-color="#cccccc"/><stop offset="1.0000" stop-color="#cdcdcd"/></linearGradient><filter id="gblur" x="-5%" y="-5%" width="110%" height="110%"><feGaussianBlur stdDeviation="1.5 0.6"/></filter><clipPath id="gclip"><rect x="2.5" y="730" width="358.0" height="204"/></clipPath></defs><g clip-path="url(#gclip)"><g filter="url(#gblur)"><rect x="-1.5" y="726" width="366.0" height="212" fill="url(#gbg)"/><rect x="44.5" y="726" width="293" height="212" fill="url(#gsep)"/><polygon points="25.2,726 44.6,726 45.0,830 43.0,938 14.0,938 21.0,838" fill="url(#gmk)"/><rect x="53.4" y="726" width="27.2" height="212" fill="url(#gl2)"/><rect x="88.8" y="726" width="27.2" height="212" fill="url(#gl3)"/><rect x="124.8" y="726" width="28.8" height="212" fill="url(#gla)"/><rect x="161.8" y="726" width="28.8" height="212" fill="url(#gla)"/><rect x="198.4" y="726" width="28.8" height="212" fill="url(#gla)"/><rect x="234.8" y="726" width="28.4" height="212" fill="url(#glb)"/><rect x="271.6" y="726" width="28.4" height="212" fill="url(#glb)"/><rect x="307.8" y="726" width="28.4" height="212" fill="url(#glb)"/><rect x="23.7" y="753.4" width="21.4" height="5.2" rx="2.6" fill="#383838"/><rect x="22.8" y="776.5" width="22.4" height="5.2" rx="2.6" fill="#383838"/><rect x="22.0" y="797.7" width="23.3" height="5.2" rx="2.6" fill="#383838"/><rect x="20.9" y="810.6" width="25.0" height="6.4" rx="3.2" fill="#242424"/><rect x="19.9" y="835.6" width="25.9" height="6.4" rx="3.2" fill="#242424"/><rect x="18.7" y="853.3" width="26.8" height="6.4" rx="3.2" fill="#242424"/><rect x="17.0" y="877.4" width="28.0" height="6.4" rx="3.2" fill="#242424"/><rect x="16.4" y="886.8" width="28.5" height="6.4" rx="3.2" fill="#242424"/><rect x="15.2" y="903.8" width="29.4" height="6.4" rx="3.2" fill="#242424"/><rect x="14.3" y="915.6" width="30.0" height="6.4" rx="3.2" fill="#242424"/><rect x="124.3" y="772.5" width="29.8" height="4.3" rx="2.1" fill="#303030"/><rect x="161.3" y="772.5" width="29.8" height="4.3" rx="2.1" fill="#303030"/><rect x="197.9" y="772.5" width="29.8" height="4.3" rx="2.1" fill="#303030"/><rect x="234.3" y="772.5" width="29.4" height="4.3" rx="2.1" fill="#303030"/><rect x="271.1" y="772.5" width="29.4" height="4.3" rx="2.1" fill="#303030"/><rect x="307.3" y="772.5" width="29.4" height="4.3" rx="2.1" fill="#303030"/></g></g><line x1="352" y1="773.2" x2="358.5" y2="773.2" stroke="#999" stroke-width="1.3"/>
<line x1="52.8" y1="30.0" x2="52.8" y2="279.5" stroke="#000" stroke-width="2.3"/>
<line x1="51.8" y1="273.0" x2="390.6" y2="273.0" stroke="#000" stroke-width="2.3"/>
<line x1="46.3" y1="273.0" x2="52.8" y2="273.0" stroke="#000" stroke-width="2.2"/>
<text x="0" y="0" font-family="Liberation Sans" font-weight="bold" font-size="16.0" text-anchor="end" transform="translate(43.3,278.8) scale(1,1.03)">0</text>
<line x1="46.3" y1="234.4" x2="52.8" y2="234.4" stroke="#000" stroke-width="2.2"/>
<text x="0" y="0" font-family="Liberation Sans" font-weight="bold" font-size="16.0" text-anchor="end" transform="translate(43.3,240.2) scale(1,1.03)">20</text>
<line x1="46.3" y1="195.8" x2="52.8" y2="195.8" stroke="#000" stroke-width="2.2"/>
<text x="0" y="0" font-family="Liberation Sans" font-weight="bold" font-size="16.0" text-anchor="end" transform="translate(43.3,201.6) scale(1,1.03)">40</text>
<line x1="46.3" y1="157.2" x2="52.8" y2="157.2" stroke="#000" stroke-width="2.2"/>
<text x="0" y="0" font-family="Liberation Sans" font-weight="bold" font-size="16.0" text-anchor="end" transform="translate(43.3,162.9) scale(1,1.03)">60</text>
<line x1="46.3" y1="118.6" x2="52.8" y2="118.6" stroke="#000" stroke-width="2.2"/>
<text x="0" y="0" font-family="Liberation Sans" font-weight="bold" font-size="16.0" text-anchor="end" transform="translate(43.3,124.3) scale(1,1.03)">80</text>
<line x1="46.3" y1="80.0" x2="52.8" y2="80.0" stroke="#000" stroke-width="2.2"/>
<text x="0" y="0" font-family="Liberation Sans" font-weight="bold" font-size="16.0" text-anchor="end" transform="translate(43.3,85.7) scale(1,1.03)">100</text>
<line x1="46.3" y1="41.3" x2="52.8" y2="41.3" stroke="#000" stroke-width="2.2"/>
<text x="0" y="0" font-family="Liberation Sans" font-weight="bold" font-size="16.0" text-anchor="end" transform="translate(43.3,47.1) scale(1,1.03)">120</text>
<line x1="52.8" y1="273.0" x2="52.8" y2="279.8" stroke="#000" stroke-width="2.2"/>
<line x1="69.7" y1="273.0" x2="69.7" y2="277.8" stroke="#000" stroke-width="1.8"/>
<line x1="79.6" y1="273.0" x2="79.6" y2="277.8" stroke="#000" stroke-width="1.8"/>
<line x1="86.6" y1="273.0" x2="86.6" y2="277.8" stroke="#000" stroke-width="1.8"/>
<line x1="92.0" y1="273.0" x2="92.0" y2="277.8" stroke="#000" stroke-width="1.8"/>
<line x1="96.5" y1="273.0" x2="96.5" y2="277.8" stroke="#000" stroke-width="1.8"/>
<line x1="100.2" y1="273.0" x2="100.2" y2="277.8" stroke="#000" stroke-width="1.8"/>
<line x1="103.5" y1="273.0" x2="103.5" y2="277.8" stroke="#000" stroke-width="1.8"/>
<line x1="106.3" y1="273.0" x2="106.3" y2="277.8" stroke="#000" stroke-width="1.8"/>
<text x="0" y="0" font-family="Liberation Sans" font-weight="bold" font-size="12.1" text-anchor="end" transform="translate(54.4,292.5) scale(1,1.03) rotate(-45)">0.000001</text>
<line x1="108.9" y1="273.0" x2="108.9" y2="279.8" stroke="#000" stroke-width="2.2"/>
<line x1="125.8" y1="273.0" x2="125.8" y2="277.8" stroke="#000" stroke-width="1.8"/>
<line x1="135.7" y1="273.0" x2="135.7" y2="277.8" stroke="#000" stroke-width="1.8"/>
<line x1="142.7" y1="273.0" x2="142.7" y2="277.8" stroke="#000" stroke-width="1.8"/>
<line x1="148.1" y1="273.0" x2="148.1" y2="277.8" stroke="#000" stroke-width="1.8"/>
<line x1="152.6" y1="273.0" x2="152.6" y2="277.8" stroke="#000" stroke-width="1.8"/>
<line x1="156.3" y1="273.0" x2="156.3" y2="277.8" stroke="#000" stroke-width="1.8"/>
<line x1="159.6" y1="273.0" x2="159.6" y2="277.8" stroke="#000" stroke-width="1.8"/>
<line x1="162.4" y1="273.0" x2="162.4" y2="277.8" stroke="#000" stroke-width="1.8"/>
<text x="0" y="0" font-family="Liberation Sans" font-weight="bold" font-size="12.1" text-anchor="end" transform="translate(110.5,292.5) scale(1,1.03) rotate(-45)">0.00001</text>
<line x1="165.0" y1="273.0" x2="165.0" y2="279.8" stroke="#000" stroke-width="2.2"/>
<line x1="181.9" y1="273.0" x2="181.9" y2="277.8" stroke="#000" stroke-width="1.8"/>
<line x1="191.8" y1="273.0" x2="191.8" y2="277.8" stroke="#000" stroke-width="1.8"/>
<line x1="198.8" y1="273.0" x2="198.8" y2="277.8" stroke="#000" stroke-width="1.8"/>
<line x1="204.2" y1="273.0" x2="204.2" y2="277.8" stroke="#000" stroke-width="1.8"/>
<line x1="208.7" y1="273.0" x2="208.7" y2="277.8" stroke="#000" stroke-width="1.8"/>
<line x1="212.4" y1="273.0" x2="212.4" y2="277.8" stroke="#000" stroke-width="1.8"/>
<line x1="215.7" y1="273.0" x2="215.7" y2="277.8" stroke="#000" stroke-width="1.8"/>
<line x1="218.5" y1="273.0" x2="218.5" y2="277.8" stroke="#000" stroke-width="1.8"/>
<text x="0" y="0" font-family="Liberation Sans" font-weight="bold" font-size="12.1" text-anchor="end" transform="translate(166.6,292.5) scale(1,1.03) rotate(-45)">0.0001</text>
<line x1="221.1" y1="273.0" x2="221.1" y2="279.8" stroke="#000" stroke-width="2.2"/>
<line x1="238.0" y1="273.0" x2="238.0" y2="277.8" stroke="#000" stroke-width="1.8"/>
<line x1="247.9" y1="273.0" x2="247.9" y2="277.8" stroke="#000" stroke-width="1.8"/>
<line x1="254.9" y1="273.0" x2="254.9" y2="277.8" stroke="#000" stroke-width="1.8"/>
<line x1="260.3" y1="273.0" x2="260.3" y2="277.8" stroke="#000" stroke-width="1.8"/>
<line x1="264.8" y1="273.0" x2="264.8" y2="277.8" stroke="#000" stroke-width="1.8"/>
<line x1="268.5" y1="273.0" x2="268.5" y2="277.8" stroke="#000" stroke-width="1.8"/>
<line x1="271.8" y1="273.0" x2="271.8" y2="277.8" stroke="#000" stroke-width="1.8"/>
<line x1="274.6" y1="273.0" x2="274.6" y2="277.8" stroke="#000" stroke-width="1.8"/>
<text x="0" y="0" font-family="Liberation Sans" font-weight="bold" font-size="12.1" text-anchor="end" transform="translate(222.7,292.5) scale(1,1.03) rotate(-45)">0.001</text>
<line x1="277.2" y1="273.0" x2="277.2" y2="279.8" stroke="#000" stroke-width="2.2"/>
<line x1="294.1" y1="273.0" x2="294.1" y2="277.8" stroke="#000" stroke-width="1.8"/>
<line x1="304.0" y1="273.0" x2="304.0" y2="277.8" stroke="#000" stroke-width="1.8"/>
<line x1="311.0" y1="273.0" x2="311.0" y2="277.8" stroke="#000" stroke-width="1.8"/>
<line x1="316.4" y1="273.0" x2="316.4" y2="277.8" stroke="#000" stroke-width="1.8"/>
<line x1="320.9" y1="273.0" x2="320.9" y2="277.8" stroke="#000" stroke-width="1.8"/>
<line x1="324.6" y1="273.0" x2="324.6" y2="277.8" stroke="#000" stroke-width="1.8"/>
<line x1="327.9" y1="273.0" x2="327.9" y2="277.8" stroke="#000" stroke-width="1.8"/>
<line x1="330.7" y1="273.0" x2="330.7" y2="277.8" stroke="#000" stroke-width="1.8"/>
<text x="0" y="0" font-family="Liberation Sans" font-weight="bold" font-size="12.1" text-anchor="end" transform="translate(278.8,292.5) scale(1,1.03) rotate(-45)">0.01</text>
<line x1="333.3" y1="273.0" x2="333.3" y2="279.8" stroke="#000" stroke-width="2.2"/>
<line x1="350.2" y1="273.0" x2="350.2" y2="277.8" stroke="#000" stroke-width="1.8"/>
<line x1="360.1" y1="273.0" x2="360.1" y2="277.8" stroke="#000" stroke-width="1.8"/>
<line x1="367.1" y1="273.0" x2="367.1" y2="277.8" stroke="#000" stroke-width="1.8"/>
<line x1="372.5" y1="273.0" x2="372.5" y2="277.8" stroke="#000" stroke-width="1.8"/>
<line x1="377.0" y1="273.0" x2="377.0" y2="277.8" stroke="#000" stroke-width="1.8"/>
<line x1="380.7" y1="273.0" x2="380.7" y2="277.8" stroke="#000" stroke-width="1.8"/>
<line x1="384.0" y1="273.0" x2="384.0" y2="277.8" stroke="#000" stroke-width="1.8"/>
<line x1="386.8" y1="273.0" x2="386.8" y2="277.8" stroke="#000" stroke-width="1.8"/>
<text x="0" y="0" font-family="Liberation Sans" font-weight="bold" font-size="12.1" text-anchor="end" transform="translate(334.9,292.5) scale(1,1.03) rotate(-45)">0.1</text>
<line x1="389.4" y1="273.0" x2="389.4" y2="279.8" stroke="#000" stroke-width="2.2"/>
<text x="0" y="0" font-family="Liberation Sans" font-weight="bold" font-size="12.1" text-anchor="end" transform="translate(391.0,292.5) scale(1,1.03) rotate(-45)">1</text>
<line x1="57.6" y1="176.5" x2="392.5" y2="176.5" stroke="#000" stroke-width="2.3" stroke-dasharray="2.3,4.5"/>
<path d="M109.60,112.77 L110.60,112.73 L111.60,112.68 L112.60,112.64 L113.60,112.58 L114.60,112.53 L115.60,112.48 L116.60,112.42 L117.60,112.36 L118.60,112.30 L119.60,112.23 L120.60,112.16 L121.60,112.09 L122.60,112.02 L123.60,111.94 L124.60,111.86 L125.60,111.78 L126.60,111.69 L127.60,111.60 L128.60,111.50 L129.60,111.41 L130.60,111.30 L131.60,111.19 L132.60,111.08 L133.60,110.97 L134.60,110.85 L135.60,110.72 L136.60,110.59 L137.60,110.45 L138.60,110.31 L139.60,110.16 L140.60,110.01 L141.60,109.85 L142.60,109.69 L143.60,109.52 L144.60,109.34 L145.60,109.16 L146.60,108.97 L147.60,108.77 L148.60,108.57 L149.60,108.35 L150.60,108.14 L151.60,107.91 L152.60,107.68 L153.60,107.44 L154.60,107.19 L155.60,106.93 L156.60,106.67 L157.60,106.40 L158.60,106.12 L159.60,105.83 L160.60,105.54 L161.60,105.24 L162.60,104.93 L163.60,104.61 L164.60,104.28 L165.60,103.95 L166.60,103.61 L167.60,103.27 L168.60,102.91 L169.60,102.56 L170.60,102.19 L171.60,101.82 L172.60,101.44 L173.60,101.06 L174.60,100.68 L175.60,100.29 L176.60,99.90 L177.60,99.51 L178.60,99.11 L179.60,98.71 L180.60,98.32 L181.60,97.92 L182.60,97.52 L183.60,97.13 L184.60,96.74 L185.60,96.35 L186.60,95.97 L187.60,95.59 L188.60,95.21 L189.60,94.85 L190.60,94.49 L191.60,94.14 L192.60,93.80 L193.60,93.47 L194.60,93.15 L195.60,92.84 L196.60,92.55 L197.60,92.26 L198.60,91.99 L199.60,91.73 L200.60,91.48 L201.60,91.25 L202.60,91.03 L203.60,90.82 L204.60,90.63 L205.60,90.45 L206.60,90.28 L207.60,90.13 L208.60,89.99 L209.60,89.86 L210.60,89.74 L211.60,89.63 L212.60,89.53 L213.60,89.45 L214.60,89.37 L215.60,89.30 L216.60,89.24 L217.60,89.18 L218.60,89.13 L219.60,89.09 L220.60,89.05 L221.60,89.02 L222.60,89.00 L223.60,88.97 L224.60,88.95 L225.60,88.94 L226.60,88.92 L227.60,88.91 L228.60,88.90 L229.60,88.89 L230.60,88.89 L231.60,88.88 L232.60,88.88 L233.60,88.87 L234.60,88.87 L235.60,88.87 L236.60,88.87 L237.60,88.87 L238.60,88.86 L239.60,88.86 L240.60,88.86 L241.60,88.86 L242.60,88.86 L243.60,88.86 L244.60,88.86 L245.60,88.86 L246.60,88.86 L247.60,88.86 L248.60,88.86 L249.60,88.86 L250.60,88.86 L251.60,88.86 L252.60,88.86 L253.60,88.86 L254.60,88.86 L255.60,88.86 L256.60,88.86 L257.60,88.86 L258.60,88.86 L259.60,88.86 L260.60,88.86 L261.60,88.86 L262.60,88.86 L263.60,88.86 L264.60,88.86 L265.60,88.86 L266.60,88.86 L267.60,88.86 L268.60,88.86 L269.60,88.86 L270.60,88.86 L271.60,88.86 L272.60,88.86 L273.60,88.86 L274.60,88.86 L275.60,88.86 L276.60,88.86 L277.60,88.86 L278.60,88.86 L279.60,88.86 L280.60,88.86 L281.60,88.86 L282.60,88.86 L283.60,88.86 L284.60,88.86 L285.60,88.86 L286.60,88.86 L287.60,88.86 L288.60,88.86 L289.60,88.86 L290.60,88.86 L291.60,88.86 L292.60,88.86 L293.60,88.86 L294.60,88.86 L295.60,88.86 L296.60,88.86 L297.60,88.86 L298.60,88.86 L299.60,88.86 L300.60,88.86 L301.60,88.86 L302.60,88.86 L303.60,88.86 L304.60,88.86 L305.60,88.86 L306.60,88.86 L307.60,88.86 L308.60,88.86 L309.60,88.86 L310.60,88.86 L311.60,88.86 L312.60,88.86 L313.60,88.86 L314.60,88.86 L315.60,88.86 L316.60,88.86 L317.60,88.86 L318.60,88.86 L319.60,88.86 L320.60,88.86 L321.60,88.86 L322.60,88.86 L323.60,88.86 L324.60,88.86 L325.60,88.86 L326.60,88.86 L327.60,88.86 L328.60,88.86 L329.00,88.86" fill="none" stroke="#000" stroke-width="2.4" stroke-dasharray="2.3,4.5"/>
<path d="M58.70,97.11 L59.70,98.17 L60.70,99.29 L61.70,100.46 L62.70,101.69 L63.70,102.98 L64.70,104.33 L65.70,105.74 L66.70,107.22 L67.70,108.77 L68.70,110.39 L69.70,112.08 L70.70,113.85 L71.70,115.69 L72.70,117.60 L73.70,119.60 L74.70,121.67 L75.70,123.83 L76.70,126.06 L77.70,128.38 L78.70,130.78 L79.70,133.26 L80.70,135.82 L81.70,138.46 L82.70,141.18 L83.70,143.98 L84.70,146.85 L85.70,149.79 L86.70,152.80 L87.70,155.87 L88.70,159.01 L89.70,162.20 L90.70,165.43 L91.70,168.72 L92.70,172.04 L93.70,175.39 L94.70,178.76 L95.70,182.15 L96.70,185.54 L97.70,188.93 L98.70,192.31 L99.70,195.67 L100.70,199.00 L101.70,202.29 L102.70,205.54 L103.70,208.73 L104.70,211.85 L105.70,214.90 L106.70,217.87 L107.70,220.76 L108.70,223.54 L109.70,226.23 L110.70,228.81 L111.70,231.28 L112.70,233.64 L113.70,235.89 L114.70,238.01 L115.70,240.02 L116.70,241.90 L117.70,243.67 L118.70,245.32 L119.70,246.86 L120.70,248.29 L121.70,249.61 L122.70,250.82 L123.70,251.93 L124.70,252.95 L125.70,253.88 L126.70,254.72 L127.70,255.49 L128.70,256.18 L129.70,256.80 L130.70,257.35 L131.70,257.85 L132.70,258.29 L133.70,258.69 L134.70,259.03 L135.70,259.34 L136.70,259.61 L137.70,259.85 L138.70,260.06 L139.70,260.24 L140.70,260.40 L141.70,260.54 L142.70,260.66 L143.70,260.77 L144.70,260.86 L145.70,260.93 L146.70,261.00 L147.70,261.06 L148.70,261.11 L149.70,261.15 L150.70,261.19 L151.70,261.22 L152.70,261.24 L153.70,261.27 L154.70,261.29 L155.70,261.30 L156.70,261.31 L157.70,261.33 L158.70,261.34 L159.70,261.34 L160.70,261.35 L161.70,261.36 L162.70,261.36 L163.70,261.37 L164.70,261.37 L165.70,261.37 L166.70,261.38 L167.70,261.38 L168.70,261.38 L169.70,261.38 L170.70,261.38 L171.70,261.38 L172.70,261.38 L173.70,261.38 L174.70,261.39 L175.70,261.39 L176.70,261.39 L177.70,261.39 L178.70,261.39 L179.70,261.39 L180.70,261.39 L181.70,261.39 L182.70,261.39 L183.70,261.39 L184.70,261.39 L185.70,261.39 L186.70,261.39 L187.70,261.39 L188.70,261.39 L189.70,261.39 L190.70,261.39 L191.70,261.39 L192.70,261.39 L193.70,261.39 L194.70,261.39 L195.70,261.39 L196.70,261.39 L197.70,261.39 L198.70,261.39 L199.70,261.39 L200.70,261.39 L201.70,261.39 L202.70,261.39 L203.70,261.39 L204.70,261.39 L205.70,261.39 L206.70,261.39 L207.70,261.39 L208.70,261.39 L209.70,261.39 L210.70,261.39 L211.70,261.39 L212.70,261.39 L213.70,261.39 L214.70,261.39 L215.70,261.39 L216.70,261.39 L217.70,261.39 L218.70,261.39 L219.70,261.39 L220.70,261.39 L221.70,261.39 L222.70,261.39 L223.70,261.39 L224.70,261.39 L225.70,261.39 L226.70,261.39 L227.70,261.39 L228.70,261.39 L229.70,261.39 L230.70,261.39 L231.70,261.39 L232.70,261.39 L233.70,261.39 L234.70,261.39 L235.70,261.39 L236.70,261.39 L237.70,261.39 L238.70,261.39 L239.70,261.39 L240.70,261.39 L241.70,261.39 L242.70,261.39 L243.70,261.39 L244.70,261.39 L245.70,261.39 L246.70,261.39 L247.70,261.39 L248.70,261.39 L249.70,261.39 L250.70,261.39 L251.70,261.39 L252.70,261.39 L253.70,261.39 L254.70,261.39 L255.70,261.39 L256.70,261.39 L257.70,261.39 L258.70,261.39 L259.70,261.39 L260.70,261.39 L261.70,261.39 L262.70,261.39 L263.70,261.39 L264.70,261.39 L265.70,261.39 L266.70,261.39 L267.70,261.39 L268.70,261.39 L269.70,261.39 L270.70,261.39 L271.70,261.39 L272.70,261.39 L273.70,261.39 L274.70,261.39 L275.70,261.39 L276.70,261.39 L277.70,261.39 L278.70,261.39 L279.70,261.39 L280.70,261.39 L281.70,261.39 L282.70,261.39 L283.70,261.39 L284.70,261.39 L285.70,261.39 L286.70,261.39 L287.70,261.39 L288.70,261.39 L289.70,261.39 L290.70,261.39 L291.70,261.39 L292.70,261.39 L293.70,261.39 L294.70,261.39 L295.70,261.39 L296.70,261.39 L297.70,261.39 L298.70,261.39 L299.70,261.39 L300.70,261.39 L301.70,261.39 L302.70,261.39 L303.70,261.39 L304.70,261.39 L305.70,261.39 L306.70,261.39 L307.70,261.39 L308.70,261.39 L309.70,261.39 L310.70,261.39 L311.70,261.39 L312.70,261.39 L313.70,261.39 L314.70,261.39 L315.70,261.39 L316.70,261.39 L317.70,261.39 L318.70,261.39 L319.70,261.39 L320.70,261.39 L321.70,261.39 L322.70,261.39 L323.70,261.39 L324.70,261.39 L325.70,261.39 L326.70,261.39 L327.70,261.39 L328.70,261.39 L329.70,261.39 L330.70,261.39 L331.70,261.39 L332.70,261.39 L333.70,261.39 L334.70,261.39 L335.70,261.39 L336.70,261.39 L337.70,261.39 L338.70,261.39 L339.70,261.39 L340.70,261.39 L341.70,261.39 L342.70,261.39 L343.70,261.39 L344.70,261.39 L345.70,261.39 L346.70,261.39 L347.70,261.39 L348.70,261.39 L349.70,261.39 L350.70,261.39 L351.70,261.39 L352.70,261.39 L353.70,261.39 L354.70,261.39 L355.70,261.39 L356.70,261.39 L357.70,261.39 L358.70,261.39 L359.70,261.39 L360.70,261.39 L361.70,261.39 L362.70,261.39 L363.70,261.39 L364.70,261.39 L365.70,261.39 L366.70,261.39 L367.70,261.39 L368.70,261.39 L369.70,261.39 L370.70,261.39 L371.70,261.39 L372.70,261.39 L373.70,261.39 L374.00,261.39" fill="none" stroke="#000" stroke-width="2.3"/>
<path d="M93.30,93.04 L94.30,93.32 L95.30,93.60 L96.30,93.91 L97.30,94.22 L98.30,94.55 L99.30,94.90 L100.30,95.26 L101.30,95.64 L102.30,96.04 L103.30,96.46 L104.30,96.89 L105.30,97.34 L106.30,97.82 L107.30,98.31 L108.30,98.83 L109.30,99.37 L110.30,99.94 L111.30,100.53 L112.30,101.15 L113.30,101.79 L114.30,102.46 L115.30,103.16 L116.30,103.89 L117.30,104.66 L118.30,105.45 L119.30,106.28 L120.30,107.14 L121.30,108.04 L122.30,108.98 L123.30,109.96 L124.30,110.97 L125.30,112.02 L126.30,113.12 L127.30,114.26 L128.30,115.44 L129.30,116.67 L130.30,117.95 L131.30,119.27 L132.30,120.64 L133.30,122.06 L134.30,123.53 L135.30,125.06 L136.30,126.63 L137.30,128.26 L138.30,129.94 L139.30,131.67 L140.30,133.46 L141.30,135.30 L142.30,137.20 L143.30,139.15 L144.30,141.15 L145.30,143.21 L146.30,145.33 L147.30,147.49 L148.30,149.71 L149.30,151.98 L150.30,154.30 L151.30,156.66 L152.30,159.07 L153.30,161.53 L154.30,164.03 L155.30,166.56 L156.30,169.13 L157.30,171.73 L158.30,174.37 L159.30,177.02 L160.30,179.70 L161.30,182.40 L162.30,185.11 L163.30,187.83 L164.30,190.55 L165.30,193.28 L166.30,195.99 L167.30,198.70 L168.30,201.39 L169.30,204.06 L170.30,206.71 L171.30,209.32 L172.30,211.89 L173.30,214.43 L174.30,216.92 L175.30,219.36 L176.30,221.74 L177.30,224.06 L178.30,226.33 L179.30,228.52 L180.30,230.65 L181.30,232.70 L182.30,234.68 L183.30,236.58 L184.30,238.40 L185.30,240.15 L186.30,241.81 L187.30,243.39 L188.30,244.89 L189.30,246.32 L190.30,247.66 L191.30,248.92 L192.30,250.11 L193.30,251.22 L194.30,252.26 L195.30,253.23 L196.30,254.13 L197.30,254.96 L198.30,255.74 L199.30,256.45 L200.30,257.11 L201.30,257.71 L202.30,258.26 L203.30,258.76 L204.30,259.22 L205.30,259.64 L206.30,260.02 L207.30,260.36 L208.30,260.67 L209.30,260.95 L210.30,261.20 L211.30,261.43 L212.30,261.63 L213.30,261.81 L214.30,261.97 L215.30,262.11 L216.30,262.24 L217.30,262.35 L218.30,262.45 L219.30,262.54 L220.30,262.62 L221.30,262.69 L222.30,262.75 L223.30,262.80 L224.30,262.85 L225.30,262.89 L226.30,262.92 L227.30,262.95 L228.30,262.98 L229.30,263.00 L230.30,263.03 L231.30,263.04 L232.30,263.06 L233.30,263.07 L234.30,263.08 L235.30,263.09 L236.30,263.10 L237.30,263.11 L238.30,263.12 L239.30,263.12 L240.30,263.13 L241.30,263.13 L242.30,263.13 L243.30,263.14 L244.30,263.14 L245.30,263.14 L246.30,263.14 L247.30,263.15 L248.30,263.15 L249.30,263.15 L250.30,263.15 L251.30,263.15 L252.30,263.15 L253.30,263.15 L254.30,263.15 L255.30,263.15 L256.30,263.15 L257.30,263.15 L258.30,263.15 L259.30,263.15 L260.30,263.15 L261.30,263.15 L262.30,263.16 L263.30,263.16 L264.30,263.16 L265.30,263.16 L266.30,263.16 L267.30,263.16 L268.30,263.16 L269.30,263.16 L270.30,263.16 L271.30,263.16 L272.30,263.16 L273.30,263.16 L274.30,263.16 L275.30,263.16 L276.30,263.16 L277.30,263.16 L278.30,263.16 L279.30,263.16 L280.30,263.16 L281.30,263.16 L282.30,263.16 L283.30,263.16 L284.30,263.16 L285.30,263.16 L286.30,263.16 L287.30,263.16 L288.30,263.16 L289.30,263.16 L290.30,263.16 L291.30,263.16 L292.30,263.16 L293.30,263.16 L294.30,263.16 L295.30,263.16 L296.30,263.16 L297.30,263.16 L298.30,263.16 L299.30,263.16 L300.30,263.16 L301.30,263.16 L302.30,263.16 L303.30,263.16 L304.30,263.16 L305.30,263.16 L306.30,263.16 L307.30,263.16 L308.30,263.16 L309.30,263.16 L310.30,263.16 L311.30,263.16 L312.30,263.16 L313.30,263.16 L314.30,263.16 L315.30,263.16 L316.30,263.16 L317.30,263.16 L318.30,263.16 L319.30,263.16 L320.30,263.16 L321.30,263.16 L322.30,263.16 L323.30,263.16 L324.30,263.16 L325.30,263.16 L326.30,263.16 L327.30,263.16 L328.30,263.16 L329.30,263.16 L330.30,263.16 L331.30,263.16 L332.30,263.16 L333.30,263.16 L334.30,263.16 L335.30,263.16 L336.30,263.16 L337.30,263.16 L338.30,263.16 L339.30,263.16 L340.30,263.16 L341.30,263.16 L342.30,263.16 L343.30,263.16 L344.30,263.16 L345.30,263.16 L346.30,263.16 L347.30,263.16 L348.30,263.16 L349.30,263.16 L350.30,263.16 L351.30,263.16 L352.30,263.16 L353.30,263.16 L354.30,263.16 L355.30,263.16 L356.30,263.16 L357.30,263.16 L358.30,263.16 L359.30,263.16 L360.30,263.16 L361.30,263.16 L362.30,263.16 L363.30,263.16 L364.30,263.16 L365.30,263.16 L366.30,263.16 L367.30,263.16 L368.30,263.16 L369.30,263.16 L370.30,263.16 L371.30,263.16 L372.30,263.16 L373.30,263.16 L374.00,263.16" fill="none" stroke="#000" stroke-width="2.4" stroke-dasharray="6.3,4.9"/>
<ellipse cx="59.0" cy="108.5" rx="3.3" ry="3.30" fill="#000"/>
<ellipse cx="69.8" cy="102.7" rx="3.3" ry="3.30" fill="#000"/>
<ellipse cx="75.0" cy="112.5" rx="3.3" ry="3.30" fill="#000"/>
<ellipse cx="82.1" cy="95.8" rx="3.3" ry="3.30" fill="#000"/>
<ellipse cx="92.3" cy="225.6" rx="3.3" ry="3.30" fill="#000"/>
<ellipse cx="109.3" cy="246.6" rx="3.3" ry="3.30" fill="#000"/>
<ellipse cx="126.0" cy="253.3" rx="3.3" ry="3.30" fill="#000"/>
<ellipse cx="165.6" cy="261.9" rx="3.3" ry="3.30" fill="#000"/>
<ellipse cx="239.3" cy="248.5" rx="3.3" ry="3.30" fill="#000"/>
<ellipse cx="278.4" cy="253.7" rx="3.3" ry="3.30" fill="#000"/>
<ellipse cx="334.6" cy="256.0" rx="3.3" ry="3.30" fill="#000"/>
<ellipse cx="373.8" cy="261.2" rx="3.3" ry="3.30" fill="#000"/>
<rect x="88.4" y="97.3" width="6.6" height="6.60" fill="#000"/>
<rect x="105.4" y="97.3" width="6.6" height="6.60" fill="#000"/>
<rect x="112.5" y="101.5" width="6.6" height="6.60" fill="#000"/>
<rect x="123.0" y="104.4" width="6.6" height="6.60" fill="#000"/>
<rect x="162.4" y="155.1" width="6.6" height="6.60" fill="#000"/>
<rect x="162.3" y="226.0" width="6.6" height="6.60" fill="#000"/>
<rect x="218.8" y="252.2" width="6.6" height="6.60" fill="#000"/>
<rect x="218.8" y="255.2" width="6.6" height="6.60" fill="#000"/>
<rect x="275.1" y="259.7" width="6.6" height="6.60" fill="#000"/>
<rect x="331.3" y="260.7" width="6.6" height="6.60" fill="#000"/>
<rect x="348.6" y="262.5" width="6.6" height="6.60" fill="#000"/>
<rect x="370.5" y="265.7" width="6.6" height="6.60" fill="#000"/>
<path d="M122.9,125.9 L129.7,125.9 L126.3,119.5 Z" fill="#000"/>
<path d="M162.6,124.7 L169.4,124.7 L166.0,118.3 Z" fill="#000"/>
<path d="M179.3,84.0 L186.1,84.0 L182.7,77.6 Z" fill="#000"/>
<path d="M218.3,96.3 L225.1,96.3 L221.7,89.9 Z" fill="#000"/>
<path d="M234.6,91.7 L241.4,91.7 L238.0,85.3 Z" fill="#000"/>
<path d="M275.6,89.3 L282.4,89.3 L279.0,82.9 Z" fill="#000"/>
<path d="M331.7,100.7 L338.5,100.7 L335.1,94.3 Z" fill="#000"/>
<line x1="443.3" y1="46.6" x2="467.5" y2="46.6" stroke="#000" stroke-width="2.3"/>
<ellipse cx="455.4" cy="46.6" rx="2.9" ry="2.90" fill="#000"/>
<text x="0" y="0" font-family="Liberation Sans" font-size="17.6" transform="translate(481,53.0) scale(1,1.03)">2-76</text>
<rect x="442.7" y="71.7" width="2.3" height="2.3" fill="#000"/>
<rect x="448.59999999999997" y="71.7" width="2.3" height="2.3" fill="#000"/>
<rect x="463.2" y="71.7" width="2.3" height="2.3" fill="#000"/>
<path d="M452.3,75.1 L458.5,75.1 L455.4,69.3 Z" fill="#000"/>
<text x="0" y="0" font-family="Liberation Sans" font-size="17.6" transform="translate(481,78.2) scale(1,1.03)">2-54</text>
<rect x="443.3" y="101.5" width="5.2" height="2.4" fill="#000"/>
<rect x="464.8" y="101.5" width="2.4" height="2.4" fill="#000"/>
<rect x="452.3" y="99.6" width="6.2" height="6.20" fill="#000"/>
<text x="0" y="0" font-family="Liberation Sans" font-size="17.6" transform="translate(481,108.8) scale(1,1.03)">1D4</text>
<text x="0" y="0" font-family="Liberation Sans" font-weight="bold" font-size="16.5" transform="translate(14.4,223.2) scale(1,1.04) rotate(-90)">Residual FVIII (%)</text>
<text x="0" y="0" font-family="Liberation Sans" font-weight="bold" font-size="15.8" transform="translate(174.4,337.6) scale(1,1.03)">MAb (mg/ml)</text>
<text x="0" y="0" font-family="Liberation Sans" font-weight="bold" font-size="25.5" transform="translate(3.0,19.0) scale(1,1.03)">A</text>
<line x1="52.8" y1="393.3" x2="52.8" y2="609.5" stroke="#000" stroke-width="2.3"/>
<line x1="51.8" y1="603.0" x2="390.6" y2="603.0" stroke="#000" stroke-width="2.3"/>
<line x1="46.3" y1="603.0" x2="52.8" y2="603.0" stroke="#000" stroke-width="2.2"/>
<text x="0" y="0" font-family="Liberation Sans" font-weight="bold" font-size="16.0" text-anchor="end" transform="translate(43.3,607.9) scale(1,0.88)">0</text>
<line x1="46.3" y1="569.7" x2="52.8" y2="569.7" stroke="#000" stroke-width="2.2"/>
<text x="0" y="0" font-family="Liberation Sans" font-weight="bold" font-size="16.0" text-anchor="end" transform="translate(43.3,574.6) scale(1,0.88)">20</text>
<line x1="46.3" y1="536.3" x2="52.8" y2="536.3" stroke="#000" stroke-width="2.2"/>
<text x="0" y="0" font-family="Liberation Sans" font-weight="bold" font-size="16.0" text-anchor="end" transform="translate(43.3,541.3) scale(1,0.88)">40</text>
<line x1="46.3" y1="503.0" x2="52.8" y2="503.0" stroke="#000" stroke-width="2.2"/>
<text x="0" y="0" font-family="Liberation Sans" font-weight="bold" font-size="16.0" text-anchor="end" transform="translate(43.3,507.9) scale(1,0.88)">60</text>
<line x1="46.3" y1="469.7" x2="52.8" y2="469.7" stroke="#000" stroke-width="2.2"/>
<text x="0" y="0" font-family="Liberation Sans" font-weight="bold" font-size="16.0" text-anchor="end" transform="translate(43.3,474.6) scale(1,0.88)">80</text>
<line x1="46.3" y1="436.3" x2="52.8" y2="436.3" stroke="#000" stroke-width="2.2"/>
<text x="0" y="0" font-family="Liberation Sans" font-weight="bold" font-size="16.0" text-anchor="end" transform="translate(43.3,441.3) scale(1,0.88)">100</text>
<line x1="46.3" y1="403.0" x2="52.8" y2="403.0" stroke="#000" stroke-width="2.2"/>
<text x="0" y="0" font-family="Liberation Sans" font-weight="bold" font-size="16.0" text-anchor="end" transform="translate(43.3,407.9) scale(1,0.88)">120</text>
<line x1="52.8" y1="603.0" x2="52.8" y2="609.8" stroke="#000" stroke-width="2.2"/>
<line x1="69.7" y1="603.0" x2="69.7" y2="607.8" stroke="#000" stroke-width="1.8"/>
<line x1="79.6" y1="603.0" x2="79.6" y2="607.8" stroke="#000" stroke-width="1.8"/>
<line x1="86.6" y1="603.0" x2="86.6" y2="607.8" stroke="#000" stroke-width="1.8"/>
<line x1="92.0" y1="603.0" x2="92.0" y2="607.8" stroke="#000" stroke-width="1.8"/>
<line x1="96.5" y1="603.0" x2="96.5" y2="607.8" stroke="#000" stroke-width="1.8"/>
<line x1="100.2" y1="603.0" x2="100.2" y2="607.8" stroke="#000" stroke-width="1.8"/>
<line x1="103.5" y1="603.0" x2="103.5" y2="607.8" stroke="#000" stroke-width="1.8"/>
<line x1="106.3" y1="603.0" x2="106.3" y2="607.8" stroke="#000" stroke-width="1.8"/>
<text x="0" y="0" font-family="Liberation Sans" font-weight="bold" font-size="12.1" text-anchor="end" transform="translate(54.4,620.5) scale(1,0.88) rotate(-45)">0.000001</text>
<line x1="108.9" y1="603.0" x2="108.9" y2="609.8" stroke="#000" stroke-width="2.2"/>
<line x1="125.8" y1="603.0" x2="125.8" y2="607.8" stroke="#000" stroke-width="1.8"/>
<line x1="135.7" y1="603.0" x2="135.7" y2="607.8" stroke="#000" stroke-width="1.8"/>
<line x1="142.7" y1="603.0" x2="142.7" y2="607.8" stroke="#000" stroke-width="1.8"/>
<line x1="148.1" y1="603.0" x2="148.1" y2="607.8" stroke="#000" stroke-width="1.8"/>
<line x1="152.6" y1="603.0" x2="152.6" y2="607.8" stroke="#000" stroke-width="1.8"/>
<line x1="156.3" y1="603.0" x2="156.3" y2="607.8" stroke="#000" stroke-width="1.8"/>
<line x1="159.6" y1="603.0" x2="159.6" y2="607.8" stroke="#000" stroke-width="1.8"/>
<line x1="162.4" y1="603.0" x2="162.4" y2="607.8" stroke="#000" stroke-width="1.8"/>
<text x="0" y="0" font-family="Liberation Sans" font-weight="bold" font-size="12.1" text-anchor="end" transform="translate(110.5,620.5) scale(1,0.88) rotate(-45)">0.00001</text>
<line x1="165.0" y1="603.0" x2="165.0" y2="609.8" stroke="#000" stroke-width="2.2"/>
<line x1="181.9" y1="603.0" x2="181.9" y2="607.8" stroke="#000" stroke-width="1.8"/>
<line x1="191.8" y1="603.0" x2="191.8" y2="607.8" stroke="#000" stroke-width="1.8"/>
<line x1="198.8" y1="603.0" x2="198.8" y2="607.8" stroke="#000" stroke-width="1.8"/>
<line x1="204.2" y1="603.0" x2="204.2" y2="607.8" stroke="#000" stroke-width="1.8"/>
<line x1="208.7" y1="603.0" x2="208.7" y2="607.8" stroke="#000" stroke-width="1.8"/>
<line x1="212.4" y1="603.0" x2="212.4" y2="607.8" stroke="#000" stroke-width="1.8"/>
<line x1="215.7" y1="603.0" x2="215.7" y2="607.8" stroke="#000" stroke-width="1.8"/>
<line x1="218.5" y1="603.0" x2="218.5" y2="607.8" stroke="#000" stroke-width="1.8"/>
<text x="0" y="0" font-family="Liberation Sans" font-weight="bold" font-size="12.1" text-anchor="end" transform="translate(166.6,620.5) scale(1,0.88) rotate(-45)">0.0001</text>
<line x1="221.1" y1="603.0" x2="221.1" y2="609.8" stroke="#000" stroke-width="2.2"/>
<line x1="238.0" y1="603.0" x2="238.0" y2="607.8" stroke="#000" stroke-width="1.8"/>
<line x1="247.9" y1="603.0" x2="247.9" y2="607.8" stroke="#000" stroke-width="1.8"/>
<line x1="254.9" y1="603.0" x2="254.9" y2="607.8" stroke="#000" stroke-width="1.8"/>
<line x1="260.3" y1="603.0" x2="260.3" y2="607.8" stroke="#000" stroke-width="1.8"/>
<line x1="264.8" y1="603.0" x2="264.8" y2="607.8" stroke="#000" stroke-width="1.8"/>
<line x1="268.5" y1="603.0" x2="268.5" y2="607.8" stroke="#000" stroke-width="1.8"/>
<line x1="271.8" y1="603.0" x2="271.8" y2="607.8" stroke="#000" stroke-width="1.8"/>
<line x1="274.6" y1="603.0" x2="274.6" y2="607.8" stroke="#000" stroke-width="1.8"/>
<text x="0" y="0" font-family="Liberation Sans" font-weight="bold" font-size="12.1" text-anchor="end" transform="translate(222.7,620.5) scale(1,0.88) rotate(-45)">0.001</text>
<line x1="277.2" y1="603.0" x2="277.2" y2="609.8" stroke="#000" stroke-width="2.2"/>
<line x1="294.1" y1="603.0" x2="294.1" y2="607.8" stroke="#000" stroke-width="1.8"/>
<line x1="304.0" y1="603.0" x2="304.0" y2="607.8" stroke="#000" stroke-width="1.8"/>
<line x1="311.0" y1="603.0" x2="311.0" y2="607.8" stroke="#000" stroke-width="1.8"/>
<line x1="316.4" y1="603.0" x2="316.4" y2="607.8" stroke="#000" stroke-width="1.8"/>
<line x1="320.9" y1="603.0" x2="320.9" y2="607.8" stroke="#000" stroke-width="1.8"/>
<line x1="324.6" y1="603.0" x2="324.6" y2="607.8" stroke="#000" stroke-width="1.8"/>
<line x1="327.9" y1="603.0" x2="327.9" y2="607.8" stroke="#000" stroke-width="1.8"/>
<line x1="330.7" y1="603.0" x2="330.7" y2="607.8" stroke="#000" stroke-width="1.8"/>
<text x="0" y="0" font-family="Liberation Sans" font-weight="bold" font-size="12.1" text-anchor="end" transform="translate(278.8,620.5) scale(1,0.88) rotate(-45)">0.01</text>
<line x1="333.3" y1="603.0" x2="333.3" y2="609.8" stroke="#000" stroke-width="2.2"/>
<line x1="350.2" y1="603.0" x2="350.2" y2="607.8" stroke="#000" stroke-width="1.8"/>
<line x1="360.1" y1="603.0" x2="360.1" y2="607.8" stroke="#000" stroke-width="1.8"/>
<line x1="367.1" y1="603.0" x2="367.1" y2="607.8" stroke="#000" stroke-width="1.8"/>
<line x1="372.5" y1="603.0" x2="372.5" y2="607.8" stroke="#000" stroke-width="1.8"/>
<line x1="377.0" y1="603.0" x2="377.0" y2="607.8" stroke="#000" stroke-width="1.8"/>
<line x1="380.7" y1="603.0" x2="380.7" y2="607.8" stroke="#000" stroke-width="1.8"/>
<line x1="384.0" y1="603.0" x2="384.0" y2="607.8" stroke="#000" stroke-width="1.8"/>
<line x1="386.8" y1="603.0" x2="386.8" y2="607.8" stroke="#000" stroke-width="1.8"/>
<text x="0" y="0" font-family="Liberation Sans" font-weight="bold" font-size="12.1" text-anchor="end" transform="translate(334.9,620.5) scale(1,0.88) rotate(-45)">0.1</text>
<line x1="389.4" y1="603.0" x2="389.4" y2="609.8" stroke="#000" stroke-width="2.2"/>
<text x="0" y="0" font-family="Liberation Sans" font-weight="bold" font-size="12.1" text-anchor="end" transform="translate(391.0,620.5) scale(1,0.88) rotate(-45)">1</text>
<line x1="57.6" y1="519.7" x2="392.5" y2="519.7" stroke="#000" stroke-width="2.3" stroke-dasharray="2.3,4.5"/>
<path d="M79.40,437.75 L80.40,438.27 L81.40,438.81 L82.40,439.37 L83.40,439.95 L84.40,440.55 L85.40,441.17 L86.40,441.81 L87.40,442.47 L88.40,443.16 L89.40,443.87 L90.40,444.60 L91.40,445.36 L92.40,446.15 L93.40,446.96 L94.40,447.79 L95.40,448.66 L96.40,449.55 L97.40,450.47 L98.40,451.42 L99.40,452.40 L100.40,453.41 L101.40,454.45 L102.40,455.52 L103.40,456.63 L104.40,457.77 L105.40,458.94 L106.40,460.14 L107.40,461.38 L108.40,462.65 L109.40,463.96 L110.40,465.30 L111.40,466.68 L112.40,468.10 L113.40,469.55 L114.40,471.03 L115.40,472.55 L116.40,474.11 L117.40,475.70 L118.40,477.33 L119.40,478.99 L120.40,480.69 L121.40,482.42 L122.40,484.18 L123.40,485.98 L124.40,487.81 L125.40,489.67 L126.40,491.55 L127.40,493.47 L128.40,495.41 L129.40,497.38 L130.40,499.37 L131.40,501.38 L132.40,503.41 L133.40,505.46 L134.40,507.52 L135.40,509.59 L136.40,511.67 L137.40,513.76 L138.40,515.85 L139.40,517.95 L140.40,520.04 L141.40,522.12 L142.40,524.19 L143.40,526.25 L144.40,528.29 L145.40,530.31 L146.40,532.31 L147.40,534.28 L148.40,536.22 L149.40,538.12 L150.40,539.98 L151.40,541.80 L152.40,543.57 L153.40,545.29 L154.40,546.97 L155.40,548.58 L156.40,550.14 L157.40,551.64 L158.40,553.07 L159.40,554.44 L160.40,555.74 L161.40,556.98 L162.40,558.15 L163.40,559.25 L164.40,560.28 L165.40,561.24 L166.40,562.14 L167.40,562.96 L168.40,563.73 L169.40,564.43 L170.40,565.07 L171.40,565.64 L172.40,566.17 L173.40,566.64 L174.40,567.06 L175.40,567.43 L176.40,567.76 L177.40,568.04 L178.40,568.29 L179.40,568.51 L180.40,568.69 L181.40,568.85 L182.40,568.98 L183.40,569.09 L184.40,569.18 L185.40,569.26 L186.40,569.32 L187.40,569.37 L188.40,569.41 L189.40,569.44 L190.40,569.47 L191.40,569.48 L192.40,569.50 L193.40,569.51 L194.40,569.52 L195.40,569.52 L196.40,569.53 L197.40,569.53 L198.40,569.53 L199.40,569.54 L200.40,569.54 L201.40,569.54 L202.40,569.54 L203.40,569.54 L204.40,569.54 L205.40,569.54 L206.40,569.54 L207.40,569.54 L208.40,569.54 L209.40,569.54 L210.40,569.54 L211.40,569.54 L212.40,569.54 L213.40,569.54 L214.40,569.54 L215.40,569.54 L216.40,569.54 L217.40,569.54 L218.40,569.54 L219.40,569.54 L220.40,569.54 L221.40,569.54 L222.40,569.54 L223.40,569.54 L224.40,569.54 L225.40,569.54 L226.40,569.54 L227.40,569.54 L228.40,569.54 L229.40,569.54 L230.40,569.54 L231.40,569.54 L232.40,569.54 L233.40,569.54 L234.40,569.54 L235.40,569.54 L236.40,569.54 L237.40,569.54 L238.40,569.54 L239.40,569.54 L240.40,569.54 L241.40,569.54 L242.40,569.54 L243.40,569.54 L244.40,569.54 L245.40,569.54 L246.40,569.54 L247.40,569.54 L248.40,569.54 L249.40,569.54 L250.40,569.54 L250.50,569.54" fill="none" stroke="#000" stroke-width="2.4" stroke-dasharray="2.3,4.5"/>
<path d="M102.80,460.73 L103.80,462.14 L104.80,463.59 L105.80,465.08 L106.80,466.60 L107.80,468.17 L108.80,469.77 L109.80,471.41 L110.80,473.09 L111.80,474.81 L112.80,476.56 L113.80,478.36 L114.80,480.18 L115.80,482.05 L116.80,483.94 L117.80,485.88 L118.80,487.84 L119.80,489.83 L120.80,491.86 L121.80,493.91 L122.80,495.99 L123.80,498.10 L124.80,500.23 L125.80,502.38 L126.80,504.55 L127.80,506.74 L128.80,508.94 L129.80,511.16 L130.80,513.38 L131.80,515.61 L132.80,517.85 L133.80,520.09 L134.80,522.32 L135.80,524.55 L136.80,526.78 L137.80,529.00 L138.80,531.20 L139.80,533.39 L140.80,535.55 L141.80,537.70 L142.80,539.82 L143.80,541.91 L144.80,543.97 L145.80,546.00 L146.80,548.00 L147.80,549.95 L148.80,551.87 L149.80,553.74 L150.80,555.56 L151.80,557.35 L152.80,559.08 L153.80,560.76 L154.80,562.39 L155.80,563.97 L156.80,565.50 L157.80,566.97 L158.80,568.39 L159.80,569.75 L160.80,571.06 L161.80,572.31 L162.80,573.51 L163.80,574.66 L164.80,575.75 L165.80,576.79 L166.80,577.77 L167.80,578.71 L168.80,579.60 L169.80,580.44 L170.20,580.76" fill="none" stroke="#000" stroke-width="2.3"/>
<path d="M125.60,416.44 L126.60,417.35 L127.60,418.29 L128.60,419.26 L129.60,420.26 L130.60,421.30 L131.60,422.36 L132.60,423.46 L133.60,424.60 L134.60,425.77 L135.60,426.98 L136.60,428.23 L137.60,429.51 L138.60,430.84 L139.60,432.20 L140.60,433.60 L141.60,435.05 L142.60,436.53 L143.60,438.06 L144.60,439.63 L145.60,441.24 L146.60,442.90 L147.60,444.60 L148.60,446.35 L149.60,448.14 L150.60,449.97 L151.60,451.85 L152.60,453.77 L153.60,455.74 L154.60,457.76 L155.60,459.81 L156.60,461.92 L157.60,464.06 L158.60,466.25 L159.60,468.48 L160.60,470.76 L161.60,473.07 L162.60,475.42 L163.60,477.81 L164.60,480.24 L165.60,482.71 L166.60,485.20 L167.60,487.73 L168.60,490.29 L169.60,492.87 L170.60,495.48 L171.60,498.11 L172.60,500.77 L173.60,503.43 L174.60,506.12 L175.60,508.81 L176.60,511.50 L177.60,514.21 L178.60,516.91 L179.60,519.60 L180.60,522.29 L181.60,524.97 L182.60,527.63 L183.60,530.27 L184.60,532.89 L185.60,535.48 L186.60,538.03 L187.60,540.55 L188.60,543.03 L189.60,545.46 L190.60,547.84 L191.60,550.18 L192.60,552.45 L193.60,554.67 L194.60,556.82 L195.60,558.91 L196.60,560.92 L197.60,562.87 L198.60,564.75 L199.60,566.55 L200.60,568.27 L201.60,569.92 L202.60,571.48 L203.60,572.97 L204.60,574.38 L205.60,575.71 L206.60,576.96 L207.60,578.14 L208.60,579.24 L209.60,580.26 L210.60,581.21 L211.60,582.10 L212.60,582.91 L213.60,583.66 L214.60,584.34 L215.60,584.97 L216.60,585.54 L217.60,586.06 L218.60,586.52 L219.60,586.94 L220.60,587.31 L221.60,587.65 L222.60,587.95 L223.60,588.21 L224.60,588.44 L225.60,588.64 L226.60,588.82 L227.60,588.97 L228.60,589.11 L229.60,589.22 L230.60,589.32 L231.60,589.40 L232.60,589.47 L233.60,589.53 L234.60,589.58 L235.60,589.63 L236.60,589.66 L237.60,589.69 L238.60,589.72 L239.60,589.74 L240.60,589.75 L241.60,589.77 L242.60,589.78 L243.60,589.78 L244.60,589.79 L245.60,589.80 L246.60,589.80 L247.60,589.81 L248.60,589.81 L249.60,589.81 L250.60,589.81 L251.60,589.81 L252.60,589.81 L253.60,589.81 L254.60,589.82 L255.60,589.82 L256.60,589.82 L257.60,589.82 L258.60,589.82 L259.60,589.82 L260.60,589.82 L261.60,589.82 L262.60,589.82 L263.60,589.82 L264.60,589.82 L265.60,589.82 L266.60,589.82 L267.60,589.82 L268.60,589.82 L269.60,589.82 L270.60,589.82 L271.60,589.82 L272.60,589.82 L273.60,589.82 L274.60,589.82 L275.60,589.82 L276.60,589.82 L277.60,589.82 L278.60,589.82 L279.60,589.82 L280.60,589.82 L281.60,589.82 L282.60,589.82 L283.60,589.82 L284.60,589.82 L285.60,589.82 L286.60,589.82 L287.60,589.82 L288.60,589.82 L289.60,589.82 L290.60,589.82 L291.60,589.82 L292.60,589.82 L293.60,589.82 L294.60,589.82 L295.60,589.82 L296.60,589.82 L297.60,589.82 L298.60,589.82 L299.60,589.82 L300.60,589.82 L301.60,589.82 L302.60,589.82 L303.60,589.82 L304.60,589.82 L305.60,589.82 L306.60,589.82 L307.60,589.82 L308.60,589.82 L309.60,589.82 L310.60,589.82 L311.60,589.82 L312.60,589.82 L313.60,589.82 L314.60,589.82 L315.60,589.82 L316.60,589.82 L317.60,589.82 L318.60,589.82 L319.60,589.82 L320.60,589.82 L321.60,589.82 L322.60,589.82 L323.60,589.82 L324.60,589.82 L325.60,589.82 L326.60,589.82 L327.60,589.82 L328.60,589.82 L329.60,589.82 L330.60,589.82 L331.60,589.82 L332.60,589.82 L333.60,589.82 L334.60,589.82 L335.60,589.82 L336.60,589.82 L337.60,589.82 L338.60,589.82 L339.60,589.82 L340.60,589.82 L341.60,589.82 L342.60,589.82 L343.60,589.82 L344.60,589.82 L345.60,589.82 L346.60,589.82 L347.60,589.82 L348.60,589.82 L349.60,589.82 L350.60,589.82 L351.60,589.82 L352.60,589.82 L353.60,589.82 L354.60,589.82 L355.60,589.82 L356.60,589.82 L357.60,589.82 L358.60,589.82 L359.60,589.82 L360.60,589.82 L361.60,589.82 L362.60,589.82 L363.60,589.82 L364.60,589.82 L365.60,589.82 L366.60,589.82 L367.60,589.82 L368.60,589.82 L369.60,589.82 L370.60,589.82 L371.60,589.82 L372.00,589.82" fill="none" stroke="#000" stroke-width="2.4" stroke-dasharray="6.3,4.9"/>
<ellipse cx="102.8" cy="460.7" rx="3.3" ry="3.07" fill="#000"/>
<ellipse cx="119.2" cy="495.3" rx="3.3" ry="3.07" fill="#000"/>
<ellipse cx="136.1" cy="524.5" rx="3.3" ry="3.07" fill="#000"/>
<ellipse cx="154.0" cy="560.6" rx="3.3" ry="3.07" fill="#000"/>
<ellipse cx="170.2" cy="580.5" rx="3.3" ry="3.07" fill="#000"/>
<rect x="122.3" y="395.6" width="6.6" height="6.14" fill="#000"/>
<rect x="144.7" y="458.2" width="6.6" height="6.14" fill="#000"/>
<rect x="144.7" y="461.3" width="6.6" height="6.14" fill="#000"/>
<rect x="162.1" y="492.2" width="6.6" height="6.14" fill="#000"/>
<rect x="178.4" y="520.2" width="6.6" height="6.14" fill="#000"/>
<rect x="195.2" y="550.3" width="6.6" height="6.14" fill="#000"/>
<rect x="195.2" y="556.0" width="6.6" height="6.14" fill="#000"/>
<rect x="273.7" y="586.0" width="6.6" height="6.14" fill="#000"/>
<rect x="369.7" y="598.5" width="6.6" height="6.14" fill="#000"/>
<path d="M76.0,439.2 L82.8,439.2 L79.4,433.2 Z" fill="#000"/>
<path d="M110.6,488.8 L117.4,488.8 L114.0,482.8 Z" fill="#000"/>
<path d="M117.3,492.5 L124.1,492.5 L120.7,486.5 Z" fill="#000"/>
<path d="M144.3,530.4 L151.1,530.4 L147.7,524.4 Z" fill="#000"/>
<path d="M144.3,539.0 L151.1,539.0 L147.7,533.0 Z" fill="#000"/>
<path d="M178.5,573.8 L185.3,573.8 L181.9,567.8 Z" fill="#000"/>
<path d="M212.4,573.7 L219.2,573.7 L215.8,567.7 Z" fill="#000"/>
<path d="M247.1,571.4 L253.9,571.4 L250.5,565.4 Z" fill="#000"/>
<line x1="443.3" y1="407.1" x2="467.5" y2="407.1" stroke="#000" stroke-width="2.3"/>
<ellipse cx="455.4" cy="407.1" rx="2.9" ry="2.70" fill="#000"/>
<text x="0" y="0" font-family="Liberation Sans" font-size="17.6" transform="translate(481,413.1) scale(1,0.88)">2-76</text>
<rect x="442.7" y="428.29999999999995" width="2.3" height="2.3" fill="#000"/>
<rect x="448.59999999999997" y="428.29999999999995" width="2.3" height="2.3" fill="#000"/>
<rect x="463.2" y="428.29999999999995" width="2.3" height="2.3" fill="#000"/>
<path d="M452.3,431.5 L458.5,431.5 L455.4,426.1 Z" fill="#000"/>
<text x="0" y="0" font-family="Liberation Sans" font-size="17.6" transform="translate(481,434.9) scale(1,0.88)">2-54</text>
<rect x="443.3" y="451.2" width="5.2" height="2.4" fill="#000"/>
<rect x="464.8" y="451.2" width="2.4" height="2.4" fill="#000"/>
<rect x="452.3" y="449.5" width="6.2" height="5.77" fill="#000"/>
<text x="0" y="0" font-family="Liberation Sans" font-size="17.6" transform="translate(481,458) scale(1,0.88)">1D4</text>
<text x="0" y="0" font-family="Liberation Sans" font-weight="bold" font-size="16.5" transform="translate(14.4,558.6) scale(1,0.895) rotate(-90)">Residual FVIII (%)</text>
<text x="0" y="0" font-family="Liberation Sans" font-weight="bold" font-size="15.8" transform="translate(173.2,659.8) scale(1,0.88)">MAb (mg/ml)</text>
<text x="0" y="0" font-family="Liberation Sans" font-weight="bold" font-size="25.5" transform="translate(2.5,374.3) scale(1,0.9)">B</text>
<text x="0" y="0" font-family="Liberation Sans" font-weight="bold" font-size="24.8" transform="translate(2.7,710.0) scale(1,1.06)">C</text>
<text x="370.80" y="778.2" font-family="Liberation Sans" font-size="10.9" fill="#111" textLength="147.52" lengthAdjust="spacingAndGlyphs">FVIII single chain, MAb 2-54</text>
<text x="370.80" y="800.8" font-family="Liberation Sans" font-size="10.9" fill="#111" textLength="62.51" lengthAdjust="spacingAndGlyphs">FVIII, A1-A2</text>
<text x="370.80" y="813.8" font-family="Liberation Sans" font-size="10.9" fill="#111" textLength="44.50" lengthAdjust="spacingAndGlyphs">FVIII, LC</text>
<text x="370.80" y="825.8" font-family="Liberation Sans" font-size="10.9" fill="#111" textLength="58.27" lengthAdjust="spacingAndGlyphs">FVIII LC IIa</text>
<text x="370.80" y="843.4" font-family="Liberation Sans" font-size="10.9" fill="#111" textLength="12.38" lengthAdjust="spacingAndGlyphs">A1</text>
<text x="370.80" y="854.9" font-family="Liberation Sans" font-size="10.9" fill="#111" textLength="13.68" lengthAdjust="spacingAndGlyphs">A2</text>
<text x="3.20" y="966.8" font-family="Liberation Sans" font-size="12.4" fill="#111" textLength="48.63" lengthAdjust="spacingAndGlyphs">Mol wt,</text>
<text x="55.60" y="966.8" font-family="Liberation Sans" font-size="12.4" fill="#111" textLength="25.39" lengthAdjust="spacingAndGlyphs">No ,</text>
<text x="92.90" y="966.8" font-family="Liberation Sans" font-size="12.4" fill="#111" textLength="21.07" lengthAdjust="spacingAndGlyphs">0.5,</text>
<text x="132.20" y="966.8" font-family="Liberation Sans" font-size="12.4" fill="#111" textLength="21.57" lengthAdjust="spacingAndGlyphs">0.5,</text>
<text x="167.40" y="966.8" font-family="Liberation Sans" font-size="12.4" fill="#111" textLength="21.57" lengthAdjust="spacingAndGlyphs">1.0,</text>
<text x="206.30" y="966.8" font-family="Liberation Sans" font-size="12.4" fill="#111" textLength="21.57" lengthAdjust="spacingAndGlyphs">2.5,</text>
<text x="244.40" y="966.8" font-family="Liberation Sans" font-size="12.4" fill="#111" textLength="20.77" lengthAdjust="spacingAndGlyphs">5.0,</text>
<text x="283.30" y="966.8" font-family="Liberation Sans" font-size="12.4" fill="#111" textLength="20.77" lengthAdjust="spacingAndGlyphs">7.5,</text>
<text x="322.70" y="966.8" font-family="Liberation Sans" font-size="12.4" fill="#111" textLength="15.23" lengthAdjust="spacingAndGlyphs">10</text>
<text x="14.60" y="984.2" font-family="Liberation Sans" font-size="12.4" fill="#111" textLength="26.21" lengthAdjust="spacingAndGlyphs">Stds</text>
<text x="59.30" y="984.2" font-family="Liberation Sans" font-size="12.4" fill="#111" textLength="14.86" lengthAdjust="spacingAndGlyphs">IIa</text>
<text x="85.30" y="984.2" font-family="Liberation Sans" font-size="12.4" fill="#111" textLength="40.71" lengthAdjust="spacingAndGlyphs">nM IIa</text>
<text x="84.40" y="1001.2" font-family="Liberation Sans" font-size="12.4" fill="#111" textLength="52.44" lengthAdjust="spacingAndGlyphs">No MAb</text>
<text x="172.20" y="1018.3" font-family="Liberation Sans" font-size="12.4" fill="#111" textLength="108.79" lengthAdjust="spacingAndGlyphs">hM IIa with MAb</text>
<path d="M138.4,972.8 L138.4,979.6 Q138.4,982.3 141.2,982.3 L229.8,982.3 Q232.8,982.3 232.8,985.3 L232.8,994.2 M232.8,985.3 Q232.8,982.3 235.8,982.3 L326.8,982.3 Q329.6,982.3 329.6,979.5 L329.6,972.8" fill="none" stroke="#111" stroke-width="1.3"/>
</svg>
</body></html>
